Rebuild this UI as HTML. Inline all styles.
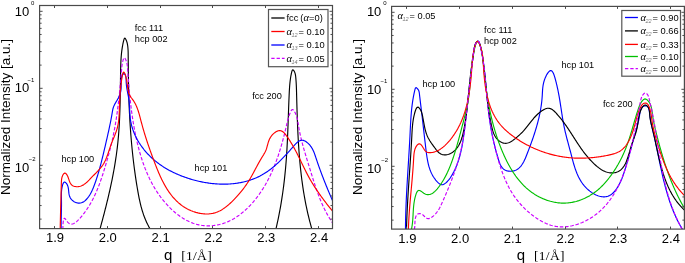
<!DOCTYPE html>
<html><head><meta charset="utf-8"><style>
html,body{margin:0;padding:0;background:#fff;width:685px;height:263px;overflow:hidden}
svg{display:block;will-change:transform;filter:blur(0.3px);font-family:"Liberation Sans",sans-serif}
.tk{font-size:13px;fill:#000}
.sup{font-size:6px;fill:#000}
.an{font-size:9.2px;fill:#000}
.lg{font-size:9.3px;fill:#000}
.al{font-family:"Liberation Serif",serif;font-style:italic;font-size:10.5px}
.sb{font-size:5.5px;fill:#777;font-style:italic}
.xq{font-size:15px;fill:#000}
.xu{font-size:13.5px;fill:#000;letter-spacing:0.3px}
.yl{font-size:13.5px;fill:#000}
.ser{font-family:"Liberation Serif",serif}
</style></head><body>
<svg width="685" height="263" viewBox="0 0 685 263" xmlns="http://www.w3.org/2000/svg">
<defs><clipPath id="cl"><rect x="40" y="6" width="292" height="222"/></clipPath><clipPath id="cr"><rect x="392" y="7" width="292" height="222"/></clipPath></defs>
<g clip-path="url(#cl)">
<path d="M99.85,229.46 L100.11,228.50 L100.38,227.53 L100.64,226.57 L100.90,225.61 L101.17,224.65 L101.43,223.69 L101.69,222.72 L101.95,221.76 L102.21,220.80 L102.47,219.84 L102.73,218.87 L102.98,217.91 L103.24,216.94 L103.49,215.98 L103.75,215.01 L104.00,214.05 L104.25,213.08 L104.50,212.12 L104.75,211.15 L105.00,210.18 L105.25,209.22 L105.49,208.25 L105.74,207.28 L105.98,206.31 L106.22,205.34 L106.46,204.38 L106.70,203.41 L106.94,202.44 L107.18,201.47 L107.41,200.50 L107.65,199.53 L107.88,198.56 L108.11,197.59 L108.34,196.61 L108.57,195.64 L108.80,194.67 L109.02,193.70 L109.25,192.72 L109.47,191.75 L109.69,190.78 L109.91,189.80 L110.12,188.83 L110.34,187.86 L110.55,186.88 L110.76,185.91 L110.97,184.93 L111.18,183.95 L111.38,182.98 L111.59,182.00 L111.79,181.02 L111.99,180.05 L112.19,179.07 L112.38,178.09 L112.57,177.11 L112.77,176.13 L112.96,175.15 L113.14,174.17 L113.33,173.19 L113.51,172.21 L113.69,171.23 L113.87,170.25 L114.05,169.27 L114.22,168.29 L114.39,167.30 L114.56,166.32 L114.73,165.34 L114.89,164.36 L115.05,163.37 L115.21,162.39 L115.37,161.40 L115.52,160.42 L115.67,159.43 L115.82,158.45 L115.97,157.46 L116.11,156.47 L116.26,155.49 L116.39,154.50 L116.53,153.51 L116.66,152.52 L116.79,151.53 L116.92,150.54 L117.05,149.55 L117.17,148.56 L117.29,147.57 L117.40,146.58 L117.51,145.59 L117.63,144.60 L117.73,143.61 L117.84,142.62 L117.94,141.62 L118.04,140.63 L118.13,139.64 L118.22,138.64 L118.31,137.65 L118.40,136.65 L118.49,135.66 L118.57,134.66 L118.65,133.67 L118.72,132.67 L118.80,131.68 L118.87,130.68 L118.94,129.68 L119.01,128.69 L119.07,127.69 L119.14,126.69 L119.20,125.69 L119.25,124.70 L119.31,123.70 L119.37,122.70 L119.42,121.70 L119.47,120.70 L119.52,119.71 L119.56,118.71 L119.61,117.71 L119.65,116.71 L119.69,115.71 L119.74,114.71 L119.77,113.71 L119.81,112.71 L119.85,111.71 L119.88,110.71 L119.91,109.71 L119.94,108.71 L119.97,107.72 L120.00,106.72 L120.03,105.72 L120.06,104.72 L120.08,103.72 L120.11,102.72 L120.13,101.72 L120.15,100.72 L120.17,99.72 L120.19,98.72 L120.21,97.72 L120.23,96.73 L120.25,95.73 L120.27,94.73 L120.29,93.73 L120.30,92.73 L120.32,91.74 L120.33,90.74 L120.35,89.74 L120.36,88.74 L120.38,87.75 L120.39,86.75 L120.41,85.75 L120.42,84.76 L120.43,83.76 L120.45,82.77 L120.46,81.77 L120.48,80.78 L120.49,79.78 L120.50,78.79 L120.52,77.79 L120.53,76.80 L120.54,75.81 L120.56,74.81 L120.57,73.82 L120.59,72.83 L120.61,71.84 L120.62,70.85 L120.64,69.86 L120.66,68.86 L120.68,67.87 L120.70,66.88 L120.73,65.89 L120.76,64.90 L120.79,63.91 L120.83,62.91 L120.87,61.92 L120.92,60.93 L120.97,59.93 L121.03,58.93 L121.10,57.93 L121.17,56.93 L121.25,55.93 L121.34,54.93 L121.44,53.92 L121.54,52.91 L121.66,51.90 L121.78,50.89 L121.92,49.87 L122.06,48.86 L122.22,47.84 L122.38,46.81 L122.57,45.78 L122.76,44.75 L122.96,43.72 L123.18,42.68 L123.41,41.64 L123.66,40.60 L123.93,39.61 L124.22,38.80 L124.54,38.27 L124.91,38.14 L125.32,38.50 L125.74,39.19 L126.12,39.96 L126.46,40.77 L126.76,41.61 L127.03,42.48 L127.25,43.37 L127.45,44.30 L127.61,45.24 L127.75,46.21 L127.86,47.19 L127.95,48.19 L128.02,49.20 L128.08,50.23 L128.12,51.26 L128.15,52.30 L128.17,53.35 L128.18,54.39 L128.19,55.44 L128.20,56.48 L128.21,57.53 L128.21,58.56 L128.22,59.60 L128.23,60.63 L128.24,61.66 L128.25,62.69 L128.26,63.71 L128.27,64.73 L128.28,65.75 L128.29,66.77 L128.30,67.78 L128.31,68.79 L128.32,69.80 L128.33,70.81 L128.34,71.81 L128.35,72.81 L128.36,73.82 L128.38,74.82 L128.39,75.81 L128.40,76.81 L128.42,77.80 L128.43,78.80 L128.45,79.79 L128.46,80.78 L128.48,81.77 L128.50,82.76 L128.51,83.74 L128.53,84.73 L128.55,85.72 L128.57,86.70 L128.59,87.69 L128.61,88.67 L128.64,89.66 L128.66,90.64 L128.69,91.62 L128.71,92.61 L128.74,93.59 L128.76,94.57 L128.79,95.56 L128.82,96.54 L128.85,97.52 L128.88,98.51 L128.91,99.49 L128.95,100.48 L128.98,101.46 L129.02,102.45 L129.05,103.44 L129.09,104.43 L129.13,105.42 L129.17,106.40 L129.21,107.39 L129.26,108.38 L129.30,109.37 L129.35,110.37 L129.39,111.36 L129.44,112.35 L129.49,113.34 L129.54,114.34 L129.59,115.33 L129.64,116.32 L129.70,117.32 L129.75,118.31 L129.81,119.31 L129.87,120.30 L129.92,121.30 L129.98,122.30 L130.05,123.29 L130.11,124.29 L130.17,125.29 L130.24,126.28 L130.31,127.28 L130.37,128.28 L130.44,129.28 L130.51,130.27 L130.59,131.27 L130.66,132.27 L130.74,133.27 L130.81,134.27 L130.89,135.27 L130.97,136.27 L131.05,137.27 L131.13,138.26 L131.22,139.26 L131.30,140.26 L131.39,141.26 L131.48,142.26 L131.57,143.26 L131.66,144.26 L131.75,145.26 L131.85,146.26 L131.94,147.26 L132.04,148.26 L132.14,149.26 L132.24,150.26 L132.34,151.26 L132.44,152.25 L132.55,153.25 L132.66,154.25 L132.76,155.25 L132.87,156.25 L132.98,157.25 L133.10,158.24 L133.21,159.24 L133.33,160.24 L133.45,161.24 L133.57,162.23 L133.69,163.23 L133.81,164.22 L133.94,165.22 L134.06,166.22 L134.19,167.21 L134.32,168.21 L134.45,169.20 L134.58,170.19 L134.72,171.19 L134.85,172.18 L134.99,173.17 L135.13,174.17 L135.27,175.16 L135.42,176.15 L135.56,177.14 L135.71,178.13 L135.86,179.12 L136.01,180.11 L136.16,181.10 L136.32,182.08 L136.47,183.07 L136.63,184.06 L136.79,185.04 L136.95,186.03 L137.12,187.02 L137.28,188.00 L137.45,188.98 L137.62,189.97 L137.79,190.95 L137.96,191.93 L138.14,192.91 L138.32,193.89 L138.50,194.87 L138.69,195.84 L138.88,196.82 L139.07,197.79 L139.27,198.77 L139.48,199.74 L139.69,200.71 L139.90,201.67 L140.12,202.64 L140.35,203.61 L140.59,204.57 L140.83,205.53 L141.07,206.49 L141.33,207.44 L141.59,208.40 L141.86,209.35 L142.14,210.30 L142.43,211.25 L142.73,212.19 L143.03,213.13 L143.35,214.07 L143.67,215.01 L144.01,215.94 L144.35,216.87 L144.71,217.80 L145.08,218.73 L145.46,219.65 L145.85,220.57 L146.25,221.48 L146.67,222.39 L147.09,223.30 L147.53,224.21 L147.99,225.11 L148.46,226.00 L148.94,226.90 L149.43,227.79 L149.94,228.67 L150.47,229.55" fill="none" stroke="#000" stroke-width="1.15" stroke-linejoin="round"/>
<path d="M275.81,229.50 L276.04,228.53 L276.26,227.56 L276.49,226.59 L276.71,225.62 L276.93,224.65 L277.15,223.67 L277.36,222.70 L277.58,221.73 L277.79,220.75 L277.99,219.78 L278.20,218.80 L278.40,217.83 L278.60,216.85 L278.79,215.87 L278.99,214.89 L279.18,213.91 L279.37,212.93 L279.56,211.95 L279.74,210.97 L279.92,209.99 L280.10,209.01 L280.28,208.03 L280.46,207.05 L280.63,206.06 L280.80,205.08 L280.97,204.10 L281.13,203.11 L281.29,202.13 L281.45,201.14 L281.61,200.15 L281.77,199.17 L281.92,198.18 L282.07,197.19 L282.22,196.21 L282.37,195.22 L282.52,194.23 L282.66,193.24 L282.80,192.25 L282.94,191.26 L283.07,190.27 L283.21,189.28 L283.34,188.29 L283.47,187.30 L283.60,186.31 L283.72,185.32 L283.84,184.33 L283.96,183.34 L284.08,182.35 L284.20,181.35 L284.32,180.36 L284.43,179.37 L284.54,178.38 L284.65,177.38 L284.75,176.39 L284.86,175.40 L284.96,174.40 L285.06,173.41 L285.16,172.42 L285.26,171.42 L285.35,170.43 L285.45,169.44 L285.54,168.44 L285.63,167.45 L285.71,166.46 L285.80,165.46 L285.88,164.47 L285.97,163.47 L286.05,162.48 L286.12,161.49 L286.20,160.49 L286.27,159.50 L286.35,158.50 L286.42,157.51 L286.49,156.52 L286.55,155.52 L286.62,154.53 L286.68,153.53 L286.75,152.54 L286.81,151.55 L286.87,150.55 L286.93,149.56 L286.98,148.57 L287.04,147.57 L287.09,146.58 L287.14,145.59 L287.20,144.59 L287.25,143.60 L287.30,142.61 L287.34,141.61 L287.39,140.62 L287.44,139.62 L287.48,138.63 L287.53,137.64 L287.57,136.64 L287.61,135.65 L287.65,134.66 L287.69,133.66 L287.73,132.67 L287.77,131.67 L287.81,130.68 L287.85,129.68 L287.89,128.69 L287.93,127.70 L287.96,126.70 L288.00,125.71 L288.04,124.71 L288.07,123.72 L288.11,122.72 L288.14,121.73 L288.18,120.73 L288.21,119.73 L288.25,118.74 L288.28,117.74 L288.32,116.75 L288.35,115.75 L288.38,114.75 L288.42,113.76 L288.45,112.76 L288.49,111.76 L288.53,110.76 L288.56,109.77 L288.60,108.77 L288.63,107.77 L288.67,106.77 L288.71,105.77 L288.75,104.77 L288.78,103.78 L288.82,102.78 L288.86,101.78 L288.90,100.78 L288.94,99.78 L288.99,98.78 L289.03,97.78 L289.07,96.77 L289.12,95.77 L289.16,94.77 L289.21,93.77 L289.25,92.77 L289.30,91.77 L289.35,90.76 L289.41,89.76 L289.47,88.76 L289.53,87.76 L289.60,86.75 L289.68,85.75 L289.76,84.75 L289.85,83.75 L289.94,82.75 L290.05,81.75 L290.17,80.75 L290.29,79.75 L290.43,78.75 L290.58,77.75 L290.74,76.76 L290.91,75.76 L291.10,74.77 L291.30,73.78 L291.51,72.78 L291.75,71.81 L292.01,70.93 L292.32,70.25 L292.68,69.89 L293.12,69.93 L293.60,70.34 L294.09,71.03 L294.55,71.91 L294.93,72.88 L295.22,73.88 L295.44,74.92 L295.61,75.97 L295.73,77.03 L295.83,78.09 L295.92,79.14 L296.00,80.19 L296.07,81.22 L296.14,82.25 L296.20,83.27 L296.25,84.29 L296.30,85.30 L296.35,86.31 L296.39,87.31 L296.42,88.30 L296.46,89.30 L296.49,90.29 L296.51,91.28 L296.54,92.27 L296.57,93.26 L296.59,94.24 L296.62,95.23 L296.64,96.22 L296.67,97.21 L296.70,98.20 L296.72,99.19 L296.75,100.18 L296.78,101.17 L296.80,102.16 L296.83,103.15 L296.86,104.14 L296.89,105.13 L296.91,106.12 L296.94,107.11 L296.97,108.11 L297.00,109.10 L297.03,110.09 L297.06,111.08 L297.09,112.08 L297.12,113.07 L297.16,114.07 L297.19,115.06 L297.22,116.05 L297.26,117.05 L297.29,118.04 L297.32,119.04 L297.36,120.03 L297.40,121.03 L297.44,122.02 L297.47,123.02 L297.51,124.02 L297.55,125.01 L297.59,126.01 L297.64,127.00 L297.68,128.00 L297.72,129.00 L297.77,129.99 L297.81,130.99 L297.86,131.98 L297.91,132.98 L297.95,133.98 L298.00,134.97 L298.06,135.97 L298.11,136.97 L298.16,137.96 L298.22,138.96 L298.27,139.96 L298.33,140.95 L298.39,141.95 L298.45,142.95 L298.51,143.94 L298.57,144.94 L298.64,145.94 L298.70,146.93 L298.77,147.93 L298.84,148.93 L298.91,149.92 L298.98,150.92 L299.05,151.92 L299.12,152.91 L299.20,153.91 L299.28,154.90 L299.36,155.90 L299.44,156.89 L299.52,157.89 L299.61,158.88 L299.69,159.88 L299.78,160.87 L299.87,161.87 L299.96,162.86 L300.06,163.85 L300.15,164.85 L300.25,165.84 L300.35,166.84 L300.45,167.83 L300.56,168.82 L300.66,169.81 L300.77,170.81 L300.88,171.80 L300.99,172.79 L301.10,173.78 L301.22,174.77 L301.34,175.76 L301.46,176.75 L301.58,177.74 L301.71,178.73 L301.83,179.72 L301.96,180.71 L302.10,181.70 L302.23,182.68 L302.37,183.67 L302.51,184.66 L302.65,185.65 L302.79,186.63 L302.94,187.62 L303.09,188.60 L303.24,189.59 L303.40,190.57 L303.55,191.56 L303.71,192.54 L303.87,193.52 L304.04,194.51 L304.21,195.49 L304.38,196.47 L304.55,197.45 L304.73,198.43 L304.91,199.41 L305.09,200.39 L305.27,201.37 L305.46,202.35 L305.65,203.32 L305.84,204.30 L306.04,205.28 L306.24,206.25 L306.44,207.23 L306.65,208.20 L306.86,209.17 L307.07,210.15 L307.28,211.12 L307.50,212.09 L307.72,213.06 L307.95,214.03 L308.17,215.00 L308.40,215.97 L308.64,216.94 L308.88,217.91 L309.12,218.87 L309.36,219.84 L309.61,220.81 L309.86,221.77 L310.11,222.73 L310.37,223.70 L310.63,224.66 L310.90,225.62 L311.17,226.58 L311.44,227.54 L311.72,228.50 L312.00,229.46" fill="none" stroke="#000" stroke-width="1.15" stroke-linejoin="round"/>
<path d="M62.80,229.49 L62.86,228.66 L62.89,227.77 L62.92,226.81 L62.94,225.79 L62.98,224.73 L63.05,223.61 L63.15,222.45 L63.29,221.25 L63.50,220.03 L63.79,218.94 L64.19,218.26 L64.71,218.28 L65.36,218.99 L66.09,220.08 L66.85,221.21 L67.63,222.16 L68.41,222.90 L69.19,223.46 L69.97,223.84 L70.75,224.05 L71.53,224.12 L72.32,224.04 L73.09,223.84 L73.87,223.53 L74.64,223.11 L75.40,222.61 L76.16,222.02 L76.91,221.38 L77.65,220.68 L78.38,219.94 L79.10,219.18 L79.80,218.40 L80.50,217.61 L81.18,216.82 L81.85,216.02 L82.50,215.22 L83.15,214.42 L83.78,213.61 L84.40,212.79 L85.01,211.97 L85.60,211.15 L86.19,210.32 L86.76,209.48 L87.33,208.64 L87.88,207.80 L88.43,206.95 L88.96,206.10 L89.48,205.25 L90.00,204.39 L90.50,203.52 L91.00,202.65 L91.48,201.78 L91.96,200.91 L92.43,200.03 L92.89,199.15 L93.34,198.26 L93.78,197.37 L94.21,196.48 L94.64,195.58 L95.06,194.68 L95.47,193.78 L95.88,192.88 L96.28,191.97 L96.67,191.06 L97.06,190.14 L97.44,189.23 L97.81,188.31 L98.18,187.39 L98.54,186.46 L98.89,185.54 L99.25,184.61 L99.59,183.68 L99.93,182.74 L100.27,181.81 L100.60,180.87 L100.93,179.93 L101.25,178.99 L101.57,178.05 L101.89,177.11 L102.20,176.16 L102.51,175.22 L102.82,174.27 L103.12,173.32 L103.42,172.37 L103.72,171.41 L104.01,170.46 L104.31,169.51 L104.60,168.55 L104.89,167.60 L105.18,166.64 L105.47,165.68 L105.75,164.73 L106.04,163.77 L106.32,162.81 L106.60,161.85 L106.88,160.89 L107.16,159.92 L107.43,158.96 L107.70,158.00 L107.97,157.03 L108.24,156.07 L108.51,155.10 L108.77,154.14 L109.03,153.17 L109.29,152.21 L109.54,151.24 L109.80,150.27 L110.05,149.30 L110.29,148.33 L110.54,147.36 L110.78,146.39 L111.02,145.42 L111.25,144.45 L111.49,143.47 L111.72,142.50 L111.94,141.53 L112.16,140.55 L112.38,139.58 L112.60,138.60 L112.81,137.63 L113.02,136.65 L113.23,135.68 L113.43,134.70 L113.63,133.72 L113.82,132.74 L114.01,131.76 L114.20,130.79 L114.39,129.81 L114.57,128.83 L114.75,127.85 L114.93,126.87 L115.10,125.88 L115.27,124.90 L115.44,123.92 L115.60,122.94 L115.76,121.95 L115.92,120.97 L116.08,119.99 L116.23,119.00 L116.38,118.02 L116.53,117.03 L116.68,116.05 L116.82,115.06 L116.96,114.08 L117.10,113.09 L117.24,112.10 L117.37,111.11 L117.50,110.13 L117.63,109.14 L117.76,108.15 L117.89,107.16 L118.01,106.17 L118.13,105.18 L118.25,104.19 L118.37,103.20 L118.48,102.21 L118.60,101.21 L118.71,100.22 L118.82,99.23 L118.93,98.24 L119.03,97.24 L119.14,96.25 L119.24,95.26 L119.34,94.26 L119.45,93.27 L119.54,92.27 L119.64,91.28 L119.74,90.28 L119.84,89.29 L119.93,88.29 L120.02,87.30 L120.12,86.30 L120.21,85.30 L120.30,84.31 L120.39,83.31 L120.48,82.32 L120.56,81.32 L120.65,80.33 L120.74,79.33 L120.82,78.34 L120.91,77.34 L120.99,76.35 L121.08,75.36 L121.16,74.37 L121.25,73.38 L121.33,72.39 L121.42,71.40 L121.50,70.41 L121.58,69.42 L121.67,68.43 L121.77,67.44 L121.88,66.45 L122.00,65.45 L122.15,64.44 L122.32,63.42 L122.52,62.40 L122.75,61.35 L123.03,60.30 L123.34,59.24 L123.71,58.33 L124.12,57.80 L124.59,57.86 L125.08,58.44 L125.55,59.30 L125.97,60.23 L126.32,61.18 L126.62,62.14 L126.87,63.11 L127.08,64.09 L127.25,65.08 L127.38,66.08 L127.49,67.08 L127.58,68.09 L127.65,69.10 L127.72,70.11 L127.78,71.12 L127.84,72.13 L127.90,73.13 L127.97,74.14 L128.03,75.15 L128.10,76.15 L128.17,77.16 L128.24,78.16 L128.31,79.16 L128.39,80.16 L128.46,81.16 L128.54,82.16 L128.62,83.16 L128.70,84.16 L128.78,85.16 L128.87,86.15 L128.95,87.15 L129.04,88.14 L129.13,89.14 L129.22,90.13 L129.31,91.12 L129.41,92.12 L129.50,93.11 L129.60,94.10 L129.70,95.09 L129.80,96.09 L129.90,97.08 L130.00,98.07 L130.11,99.06 L130.22,100.05 L130.33,101.04 L130.44,102.03 L130.55,103.02 L130.67,104.01 L130.79,105.00 L130.90,105.99 L131.03,106.98 L131.15,107.97 L131.27,108.96 L131.40,109.94 L131.53,110.93 L131.66,111.92 L131.80,112.91 L131.94,113.90 L132.07,114.88 L132.22,115.87 L132.36,116.86 L132.51,117.84 L132.66,118.83 L132.81,119.81 L132.97,120.80 L133.12,121.78 L133.28,122.77 L133.45,123.75 L133.61,124.73 L133.78,125.72 L133.96,126.70 L134.13,127.68 L134.31,128.66 L134.49,129.64 L134.68,130.62 L134.87,131.60 L135.06,132.58 L135.25,133.56 L135.45,134.54 L135.66,135.52 L135.86,136.50 L136.07,137.47 L136.28,138.45 L136.50,139.43 L136.72,140.40 L136.94,141.38 L137.17,142.35 L137.40,143.32 L137.64,144.30 L137.88,145.27 L138.12,146.24 L138.37,147.21 L138.62,148.18 L138.88,149.15 L139.14,150.11 L139.41,151.08 L139.68,152.05 L139.95,153.01 L140.23,153.97 L140.51,154.93 L140.80,155.89 L141.09,156.85 L141.39,157.80 L141.70,158.76 L142.00,159.71 L142.32,160.66 L142.64,161.61 L142.96,162.56 L143.29,163.50 L143.63,164.44 L143.97,165.38 L144.31,166.32 L144.67,167.25 L145.02,168.19 L145.39,169.11 L145.76,170.04 L146.13,170.97 L146.51,171.89 L146.90,172.80 L147.30,173.72 L147.70,174.63 L148.10,175.54 L148.52,176.45 L148.94,177.35 L149.36,178.25 L149.80,179.14 L150.24,180.03 L150.68,180.92 L151.14,181.80 L151.60,182.68 L152.07,183.56 L152.54,184.43 L153.02,185.30 L153.51,186.16 L154.01,187.02 L154.52,187.88 L155.03,188.73 L155.55,189.58 L156.07,190.42 L156.61,191.26 L157.15,192.09 L157.70,192.92 L158.26,193.74 L158.83,194.56 L159.40,195.37 L159.99,196.18 L160.58,196.98 L161.18,197.78 L161.79,198.57 L162.40,199.36 L163.03,200.14 L163.66,200.91 L164.31,201.68 L164.96,202.45 L165.62,203.21 L166.29,203.96 L166.97,204.70 L167.66,205.44 L168.35,206.18 L169.06,206.91 L169.77,207.63 L170.50,208.34 L171.23,209.05 L171.97,209.74 L172.72,210.43 L173.48,211.11 L174.25,211.78 L175.03,212.44 L175.81,213.09 L176.60,213.73 L177.40,214.36 L178.21,214.98 L179.03,215.58 L179.85,216.17 L180.69,216.75 L181.53,217.31 L182.37,217.86 L183.23,218.40 L184.09,218.92 L184.96,219.43 L185.84,219.92 L186.72,220.39 L187.61,220.85 L188.51,221.29 L189.41,221.71 L190.32,222.11 L191.24,222.50 L192.17,222.87 L193.10,223.22 L194.03,223.54 L194.98,223.85 L195.93,224.14 L196.88,224.41 L197.84,224.65 L198.81,224.87 L199.78,225.07 L200.76,225.25 L201.74,225.41 L202.73,225.54 L203.72,225.65 L204.72,225.74 L205.72,225.80 L206.72,225.85 L207.72,225.87 L208.72,225.87 L209.72,225.85 L210.72,225.80 L211.72,225.74 L212.72,225.66 L213.72,225.55 L214.71,225.42 L215.70,225.28 L216.69,225.11 L217.67,224.93 L218.65,224.72 L219.62,224.49 L220.58,224.25 L221.54,223.98 L222.49,223.70 L223.43,223.39 L224.37,223.07 L225.29,222.73 L226.22,222.38 L227.13,222.00 L228.04,221.61 L228.94,221.20 L229.83,220.78 L230.72,220.34 L231.60,219.88 L232.47,219.41 L233.33,218.92 L234.19,218.42 L235.04,217.90 L235.88,217.37 L236.72,216.83 L237.54,216.27 L238.36,215.70 L239.18,215.12 L239.98,214.52 L240.78,213.91 L241.57,213.29 L242.35,212.66 L243.13,212.02 L243.89,211.37 L244.65,210.70 L245.41,210.03 L246.15,209.34 L246.89,208.65 L247.61,207.95 L248.33,207.23 L249.05,206.51 L249.75,205.78 L250.45,205.05 L251.14,204.30 L251.82,203.55 L252.49,202.79 L253.16,202.03 L253.81,201.26 L254.46,200.48 L255.10,199.70 L255.74,198.91 L256.36,198.12 L256.98,197.32 L257.59,196.52 L258.19,195.71 L258.78,194.90 L259.36,194.08 L259.94,193.26 L260.51,192.44 L261.07,191.61 L261.62,190.77 L262.17,189.94 L262.71,189.09 L263.24,188.25 L263.76,187.40 L264.28,186.55 L264.79,185.69 L265.30,184.83 L265.79,183.96 L266.28,183.10 L266.76,182.22 L267.24,181.35 L267.71,180.47 L268.17,179.59 L268.63,178.70 L269.08,177.82 L269.52,176.92 L269.96,176.03 L270.39,175.13 L270.82,174.23 L271.24,173.33 L271.65,172.42 L272.06,171.51 L272.46,170.60 L272.86,169.69 L273.25,168.77 L273.63,167.85 L274.02,166.93 L274.39,166.00 L274.76,165.08 L275.12,164.15 L275.48,163.22 L275.84,162.28 L276.19,161.35 L276.53,160.41 L276.87,159.47 L277.21,158.53 L277.54,157.59 L277.86,156.64 L278.19,155.70 L278.50,154.75 L278.82,153.80 L279.13,152.85 L279.43,151.90 L279.73,150.94 L280.03,149.99 L280.32,149.03 L280.61,148.07 L280.90,147.11 L281.18,146.15 L281.46,145.19 L281.73,144.23 L282.00,143.27 L282.27,142.31 L282.54,141.34 L282.80,140.38 L283.06,139.41 L283.31,138.45 L283.57,137.48 L283.82,136.52 L284.06,135.55 L284.31,134.58 L284.55,133.61 L284.79,132.65 L285.03,131.68 L285.26,130.71 L285.49,129.74 L285.72,128.78 L285.95,127.81 L286.18,126.84 L286.40,125.88 L286.62,124.91 L286.84,123.94 L287.07,122.98 L287.29,122.01 L287.53,121.04 L287.77,120.08 L288.03,119.10 L288.30,118.13 L288.59,117.15 L288.90,116.17 L289.24,115.19 L289.61,114.20 L290.00,113.21 L290.43,112.21 L290.89,111.22 L291.40,110.35 L291.94,109.74 L292.52,109.55 L293.14,109.85 L293.76,110.53 L294.36,111.41 L294.91,112.36 L295.40,113.31 L295.84,114.27 L296.22,115.24 L296.56,116.21 L296.86,117.19 L297.13,118.17 L297.36,119.15 L297.57,120.13 L297.76,121.12 L297.93,122.10 L298.09,123.09 L298.25,124.08 L298.40,125.07 L298.56,126.05 L298.73,127.04 L298.90,128.02 L299.08,129.00 L299.26,129.98 L299.45,130.96 L299.65,131.94 L299.85,132.91 L300.05,133.89 L300.27,134.86 L300.48,135.83 L300.71,136.80 L300.93,137.77 L301.16,138.74 L301.40,139.71 L301.64,140.67 L301.88,141.64 L302.13,142.61 L302.39,143.57 L302.64,144.53 L302.90,145.49 L303.16,146.46 L303.43,147.42 L303.70,148.38 L303.97,149.34 L304.25,150.30 L304.52,151.26 L304.80,152.21 L305.08,153.17 L305.37,154.13 L305.65,155.09 L305.94,156.04 L306.23,157.00 L306.52,157.96 L306.81,158.91 L307.11,159.87 L307.40,160.82 L307.69,161.78 L307.99,162.74 L308.29,163.69 L308.58,164.65 L308.88,165.61 L309.17,166.56 L309.47,167.52 L309.77,168.48 L310.06,169.43 L310.36,170.39 L310.65,171.35 L310.95,172.31 L311.24,173.27 L311.54,174.22 L311.83,175.18 L312.13,176.14 L312.43,177.09 L312.73,178.05 L313.03,179.01 L313.33,179.96 L313.63,180.92 L313.94,181.87 L314.24,182.82 L314.55,183.78 L314.86,184.73 L315.18,185.68 L315.50,186.63 L315.82,187.58 L316.14,188.52 L316.47,189.47 L316.79,190.41 L317.13,191.35 L317.46,192.29 L317.81,193.23 L318.15,194.17 L318.50,195.10 L318.85,196.04 L319.21,196.97 L319.58,197.89 L319.94,198.82 L320.32,199.74 L320.70,200.67 L321.08,201.59 L321.47,202.50 L321.87,203.42 L322.27,204.33 L322.68,205.24 L323.09,206.14 L323.51,207.04 L323.94,207.94 L324.37,208.84 L324.82,209.73 L325.27,210.62 L325.72,211.51 L326.19,212.39 L326.66,213.27 L327.14,214.15 L327.63,215.02 L328.12,215.89 L328.63,216.75 L329.14,217.61 L329.67,218.47 L330.20,219.32 L330.74,220.17 L331.29,221.01 L331.85,221.85 L332.42,222.68 L333.00,223.52" fill="none" stroke="#cc00ff" stroke-width="1.15" stroke-linejoin="round" stroke-dasharray="3.5,1.8"/>
<path d="M61.20,229.50 L61.18,228.54 L61.16,227.57 L61.15,226.59 L61.14,225.61 L61.14,224.62 L61.14,223.63 L61.15,222.63 L61.16,221.63 L61.17,220.62 L61.19,219.61 L61.21,218.60 L61.23,217.58 L61.25,216.56 L61.28,215.54 L61.30,214.52 L61.33,213.50 L61.35,212.48 L61.37,211.47 L61.40,210.45 L61.42,209.43 L61.44,208.42 L61.45,207.41 L61.47,206.40 L61.48,205.40 L61.48,204.40 L61.49,203.41 L61.49,202.43 L61.48,201.45 L61.47,200.47 L61.45,199.51 L61.43,198.55 L61.40,197.59 L61.39,196.64 L61.37,195.68 L61.37,194.72 L61.38,193.75 L61.42,192.77 L61.47,191.77 L61.55,190.76 L61.66,189.74 L61.81,188.69 L61.99,187.61 L62.21,186.51 L62.48,185.39 L62.80,184.31 L63.18,183.36 L63.63,182.63 L64.16,182.18 L64.77,182.11 L65.45,182.45 L66.14,183.08 L66.77,183.88 L67.28,184.75 L67.68,185.68 L67.99,186.64 L68.22,187.64 L68.39,188.66 L68.53,189.70 L68.64,190.75 L68.74,191.80 L68.86,192.85 L69.01,193.88 L69.20,194.90 L69.45,195.88 L69.79,196.83 L70.23,197.74 L70.77,198.60 L71.40,199.39 L72.11,200.13 L72.88,200.80 L73.72,201.40 L74.60,201.92 L75.52,202.35 L76.46,202.69 L77.42,202.93 L78.37,203.07 L79.32,203.11 L80.25,203.02 L81.16,202.83 L82.04,202.53 L82.89,202.14 L83.72,201.66 L84.52,201.10 L85.29,200.46 L86.04,199.76 L86.75,199.01 L87.44,198.21 L88.10,197.37 L88.73,196.50 L89.33,195.60 L89.90,194.69 L90.44,193.77 L90.95,192.85 L91.43,191.93 L91.88,191.02 L92.30,190.11 L92.71,189.20 L93.09,188.29 L93.46,187.38 L93.82,186.47 L94.16,185.56 L94.50,184.64 L94.84,183.73 L95.17,182.80 L95.49,181.88 L95.81,180.95 L96.12,180.02 L96.44,179.09 L96.74,178.15 L97.04,177.21 L97.34,176.27 L97.63,175.32 L97.92,174.37 L98.21,173.42 L98.49,172.47 L98.77,171.52 L99.05,170.56 L99.32,169.60 L99.59,168.64 L99.85,167.68 L100.12,166.72 L100.38,165.75 L100.63,164.78 L100.89,163.82 L101.14,162.85 L101.39,161.88 L101.64,160.90 L101.88,159.93 L102.12,158.96 L102.36,157.99 L102.60,157.01 L102.84,156.04 L103.08,155.06 L103.31,154.09 L103.54,153.11 L103.77,152.14 L104.00,151.16 L104.23,150.19 L104.46,149.21 L104.69,148.24 L104.91,147.26 L105.14,146.29 L105.36,145.32 L105.59,144.34 L105.81,143.37 L106.04,142.40 L106.26,141.43 L106.48,140.46 L106.71,139.50 L106.93,138.53 L107.15,137.56 L107.37,136.59 L107.59,135.63 L107.81,134.66 L108.02,133.69 L108.24,132.73 L108.45,131.76 L108.67,130.79 L108.88,129.82 L109.09,128.85 L109.30,127.88 L109.50,126.91 L109.71,125.94 L109.91,124.97 L110.11,124.00 L110.31,123.03 L110.51,122.05 L110.70,121.07 L110.89,120.10 L111.08,119.12 L111.27,118.14 L111.45,117.15 L111.63,116.17 L111.81,115.18 L111.98,114.19 L112.15,113.20 L112.32,112.21 L112.49,111.21 L112.67,110.22 L112.86,109.23 L113.10,108.26 L113.39,107.30 L113.75,106.36 L114.15,105.43 L114.60,104.53 L115.08,103.63 L115.58,102.75 L116.09,101.88 L116.60,101.03 L117.11,100.18 L117.60,99.33 L118.07,98.49 L118.52,97.65 L118.93,96.80 L119.32,95.95 L119.68,95.09 L120.00,94.21 L120.29,93.31 L120.53,92.39 L120.74,91.44 L120.90,90.46 L121.01,89.45 L121.09,88.42 L121.13,87.35 L121.15,86.28 L121.16,85.19 L121.16,84.10 L121.17,83.01 L121.19,81.93 L121.23,80.87 L121.30,79.83 L121.41,78.82 L121.57,77.84 L121.78,76.90 L122.06,76.02 L122.42,75.18 L122.85,74.42 L123.36,73.85 L123.93,73.65 L124.51,73.92 L125.04,74.50 L125.45,75.26 L125.74,76.14 L125.93,77.12 L126.04,78.17 L126.11,79.27 L126.14,80.40 L126.17,81.54 L126.22,82.66 L126.30,83.75 L126.39,84.82 L126.51,85.88 L126.64,86.91 L126.79,87.93 L126.95,88.94 L127.12,89.93 L127.30,90.92 L127.49,91.89 L127.67,92.85 L127.86,93.81 L128.05,94.77 L128.23,95.72 L128.41,96.67 L128.57,97.63 L128.73,98.58 L128.87,99.54 L129.00,100.51 L129.11,101.48 L129.21,102.46 L129.29,103.44 L129.37,104.43 L129.43,105.42 L129.49,106.41 L129.54,107.41 L129.59,108.41 L129.64,109.42 L129.69,110.42 L129.74,111.43 L129.79,112.43 L129.85,113.44 L129.92,114.45 L129.99,115.45 L130.08,116.46 L130.18,117.46 L130.29,118.46 L130.42,119.45 L130.57,120.44 L130.73,121.43 L130.92,122.42 L131.12,123.40 L131.34,124.37 L131.58,125.34 L131.83,126.31 L132.11,127.27 L132.40,128.23 L132.70,129.18 L133.03,130.12 L133.37,131.06 L133.72,132.00 L134.09,132.93 L134.48,133.85 L134.88,134.77 L135.29,135.67 L135.73,136.58 L136.17,137.48 L136.63,138.37 L137.10,139.25 L137.59,140.12 L138.08,140.99 L138.60,141.85 L139.12,142.71 L139.66,143.55 L140.20,144.39 L140.76,145.22 L141.34,146.04 L141.92,146.86 L142.51,147.66 L143.12,148.46 L143.73,149.25 L144.36,150.02 L144.99,150.79 L145.64,151.55 L146.29,152.30 L146.95,153.04 L147.62,153.78 L148.30,154.50 L148.99,155.21 L149.69,155.91 L150.39,156.60 L151.10,157.28 L151.82,157.96 L152.55,158.62 L153.29,159.27 L154.03,159.91 L154.78,160.55 L155.54,161.17 L156.31,161.79 L157.08,162.39 L157.86,162.99 L158.65,163.58 L159.44,164.16 L160.24,164.72 L161.05,165.28 L161.86,165.84 L162.68,166.38 L163.51,166.91 L164.34,167.44 L165.18,167.95 L166.02,168.46 L166.87,168.96 L167.73,169.45 L168.59,169.93 L169.46,170.41 L170.34,170.87 L171.22,171.33 L172.10,171.78 L172.99,172.22 L173.89,172.65 L174.79,173.08 L175.69,173.50 L176.60,173.90 L177.52,174.31 L178.44,174.70 L179.37,175.09 L180.29,175.47 L181.23,175.84 L182.17,176.20 L183.11,176.56 L184.06,176.90 L185.01,177.25 L185.96,177.58 L186.92,177.91 L187.88,178.23 L188.85,178.54 L189.82,178.84 L190.79,179.14 L191.76,179.43 L192.74,179.71 L193.72,179.98 L194.71,180.25 L195.69,180.51 L196.68,180.76 L197.67,181.00 L198.67,181.23 L199.66,181.46 L200.66,181.67 L201.66,181.88 L202.66,182.08 L203.66,182.27 L204.67,182.45 L205.67,182.62 L206.68,182.79 L207.69,182.94 L208.70,183.09 L209.70,183.23 L210.71,183.36 L211.72,183.47 L212.74,183.58 L213.75,183.68 L214.76,183.78 L215.77,183.86 L216.78,183.93 L217.79,183.99 L218.80,184.04 L219.81,184.09 L220.82,184.12 L221.83,184.14 L222.84,184.15 L223.84,184.16 L224.85,184.15 L225.85,184.13 L226.85,184.10 L227.85,184.06 L228.85,184.01 L229.85,183.95 L230.85,183.88 L231.84,183.80 L232.83,183.71 L233.82,183.61 L234.80,183.49 L235.79,183.37 L236.77,183.23 L237.75,183.08 L238.72,182.92 L239.69,182.75 L240.66,182.57 L241.63,182.38 L242.59,182.18 L243.54,181.96 L244.50,181.73 L245.45,181.49 L246.39,181.24 L247.33,180.98 L248.27,180.70 L249.20,180.42 L250.13,180.12 L251.06,179.80 L251.97,179.48 L252.89,179.14 L253.80,178.79 L254.70,178.43 L255.60,178.06 L256.49,177.67 L257.37,177.27 L258.25,176.86 L259.13,176.43 L260.00,176.00 L260.86,175.54 L261.72,175.08 L262.57,174.60 L263.41,174.11 L264.25,173.61 L265.07,173.09 L265.90,172.56 L266.71,172.02 L267.53,171.46 L268.33,170.89 L269.13,170.31 L269.92,169.72 L270.71,169.12 L271.49,168.51 L272.27,167.88 L273.04,167.25 L273.81,166.61 L274.57,165.95 L275.33,165.29 L276.08,164.62 L276.83,163.94 L277.58,163.25 L278.32,162.55 L279.06,161.84 L279.80,161.13 L280.53,160.41 L281.26,159.68 L281.98,158.95 L282.70,158.21 L283.42,157.46 L284.14,156.71 L284.86,155.95 L285.57,155.19 L286.28,154.42 L286.99,153.65 L287.70,152.87 L288.41,152.09 L289.12,151.31 L289.82,150.52 L290.52,149.73 L291.23,148.93 L291.93,148.14 L292.63,147.34 L293.33,146.54 L294.04,145.74 L294.74,144.94 L295.45,144.17 L296.16,143.43 L296.88,142.74 L297.61,142.10 L298.36,141.54 L299.11,141.06 L299.89,140.68 L300.68,140.41 L301.49,140.26 L302.33,140.24 L303.19,140.38 L304.07,140.65 L304.96,141.06 L305.85,141.57 L306.72,142.18 L307.57,142.86 L308.39,143.61 L309.17,144.39 L309.89,145.21 L310.55,146.04 L311.16,146.88 L311.72,147.75 L312.24,148.62 L312.72,149.51 L313.16,150.41 L313.57,151.32 L313.96,152.24 L314.32,153.16 L314.66,154.10 L314.99,155.03 L315.31,155.97 L315.62,156.92 L315.94,157.86 L316.25,158.80 L316.57,159.75 L316.88,160.69 L317.21,161.63 L317.53,162.57 L317.85,163.51 L318.18,164.45 L318.51,165.39 L318.84,166.33 L319.18,167.27 L319.52,168.21 L319.86,169.15 L320.20,170.08 L320.54,171.02 L320.89,171.96 L321.24,172.89 L321.59,173.83 L321.94,174.76 L322.29,175.69 L322.65,176.63 L323.01,177.56 L323.37,178.49 L323.73,179.42 L324.09,180.35 L324.46,181.28 L324.83,182.21 L325.20,183.14 L325.57,184.07 L325.94,184.99 L326.31,185.92 L326.69,186.84 L327.07,187.77 L327.45,188.69 L327.83,189.61 L328.21,190.54 L328.60,191.46 L328.98,192.38 L329.37,193.30 L329.76,194.21 L330.15,195.13 L330.54,196.05 L330.94,196.96 L331.33,197.88 L331.73,198.79 L332.13,199.70 L332.52,200.62 L332.93,201.53" fill="none" stroke="#0000ff" stroke-width="1.15" stroke-linejoin="round"/>
<path d="M60.20,229.52 L60.22,228.50 L60.24,227.48 L60.26,226.46 L60.28,225.45 L60.29,224.44 L60.31,223.43 L60.34,222.43 L60.36,221.42 L60.38,220.42 L60.40,219.43 L60.42,218.43 L60.44,217.43 L60.47,216.44 L60.49,215.45 L60.51,214.46 L60.54,213.47 L60.56,212.48 L60.58,211.50 L60.61,210.51 L60.63,209.52 L60.66,208.54 L60.68,207.55 L60.71,206.56 L60.73,205.58 L60.76,204.59 L60.79,203.60 L60.81,202.62 L60.84,201.63 L60.86,200.64 L60.89,199.65 L60.92,198.65 L60.95,197.66 L60.97,196.66 L61.00,195.67 L61.03,194.67 L61.05,193.67 L61.08,192.66 L61.11,191.66 L61.14,190.65 L61.16,189.64 L61.19,188.62 L61.22,187.61 L61.25,186.58 L61.28,185.56 L61.30,184.53 L61.33,183.50 L61.36,182.47 L61.41,181.44 L61.49,180.42 L61.59,179.41 L61.75,178.42 L61.96,177.45 L62.24,176.51 L62.60,175.61 L63.04,174.74 L63.58,173.94 L64.19,173.35 L64.84,173.10 L65.50,173.28 L66.14,173.80 L66.73,174.54 L67.25,175.39 L67.70,176.32 L68.10,177.31 L68.47,178.34 L68.83,179.39 L69.19,180.43 L69.57,181.45 L69.98,182.43 L70.45,183.34 L71.00,184.17 L71.63,184.90 L72.37,185.50 L73.21,185.97 L74.13,186.32 L75.12,186.55 L76.14,186.68 L77.18,186.70 L78.22,186.63 L79.23,186.48 L80.20,186.24 L81.13,185.94 L82.03,185.57 L82.89,185.13 L83.73,184.64 L84.53,184.10 L85.32,183.52 L86.08,182.89 L86.82,182.24 L87.55,181.55 L88.27,180.84 L88.99,180.12 L89.69,179.38 L90.39,178.64 L91.10,177.89 L91.81,177.16 L92.52,176.43 L93.24,175.70 L93.96,174.98 L94.68,174.27 L95.39,173.56 L96.11,172.85 L96.81,172.13 L97.51,171.42 L98.20,170.69 L98.87,169.97 L99.53,169.23 L100.18,168.48 L100.81,167.73 L101.41,166.96 L102.00,166.17 L102.56,165.37 L103.10,164.55 L103.61,163.71 L104.09,162.85 L104.55,161.98 L105.00,161.10 L105.42,160.20 L105.83,159.29 L106.22,158.37 L106.60,157.44 L106.96,156.50 L107.31,155.56 L107.66,154.61 L107.99,153.65 L108.32,152.69 L108.64,151.73 L108.96,150.76 L109.28,149.80 L109.60,148.84 L109.92,147.88 L110.25,146.92 L110.57,145.97 L110.91,145.02 L111.25,144.08 L111.60,143.15 L111.96,142.22 L112.32,141.30 L112.69,140.39 L113.07,139.48 L113.44,138.57 L113.81,137.67 L114.18,136.76 L114.55,135.86 L114.91,134.95 L115.27,134.04 L115.61,133.13 L115.95,132.21 L116.27,131.29 L116.58,130.36 L116.87,129.42 L117.14,128.48 L117.40,127.52 L117.64,126.55 L117.85,125.57 L118.05,124.58 L118.23,123.59 L118.39,122.58 L118.53,121.57 L118.66,120.55 L118.77,119.53 L118.87,118.50 L118.96,117.47 L119.04,116.44 L119.11,115.41 L119.17,114.38 L119.22,113.35 L119.26,112.33 L119.30,111.30 L119.34,110.28 L119.37,109.27 L119.40,108.27 L119.43,107.27 L119.45,106.28 L119.48,105.30 L119.51,104.33 L119.55,103.37 L119.58,102.42 L119.62,101.47 L119.67,100.53 L119.71,99.60 L119.76,98.66 L119.82,97.73 L119.88,96.79 L119.94,95.85 L120.01,94.90 L120.08,93.95 L120.16,92.98 L120.24,92.01 L120.33,91.02 L120.43,90.02 L120.53,89.00 L120.64,87.96 L120.76,86.90 L120.88,85.82 L121.01,84.71 L121.14,83.58 L121.29,82.42 L121.44,81.23 L121.60,80.02 L121.77,78.82 L121.95,77.64 L122.13,76.51 L122.33,75.46 L122.54,74.51 L122.76,73.69 L123.00,73.02 L123.24,72.52 L123.50,72.22 L123.78,72.14 L124.06,72.30 L124.36,72.68 L124.67,73.25 L124.97,73.99 L125.28,74.86 L125.58,75.86 L125.87,76.95 L126.14,78.10 L126.40,79.29 L126.64,80.50 L126.86,81.70 L127.04,82.86 L127.20,83.99 L127.35,85.07 L127.48,86.12 L127.60,87.14 L127.73,88.12 L127.87,89.08 L128.02,90.01 L128.20,90.91 L128.40,91.79 L128.63,92.65 L128.91,93.49 L129.24,94.31 L129.62,95.12 L130.06,95.91 L130.57,96.70 L131.12,97.48 L131.70,98.26 L132.29,99.05 L132.87,99.85 L133.44,100.66 L133.98,101.49 L134.49,102.34 L134.97,103.20 L135.43,104.08 L135.87,104.97 L136.28,105.87 L136.68,106.79 L137.05,107.71 L137.41,108.65 L137.75,109.59 L138.08,110.54 L138.39,111.50 L138.69,112.47 L138.98,113.44 L139.26,114.42 L139.54,115.40 L139.80,116.38 L140.07,117.36 L140.32,118.35 L140.58,119.33 L140.83,120.31 L141.09,121.29 L141.35,122.27 L141.61,123.25 L141.87,124.22 L142.13,125.18 L142.40,126.15 L142.67,127.11 L142.94,128.07 L143.21,129.03 L143.49,129.98 L143.77,130.93 L144.05,131.88 L144.34,132.82 L144.62,133.77 L144.91,134.71 L145.21,135.65 L145.50,136.59 L145.80,137.53 L146.10,138.47 L146.40,139.40 L146.70,140.33 L147.01,141.27 L147.32,142.20 L147.63,143.13 L147.94,144.06 L148.26,144.99 L148.58,145.92 L148.90,146.85 L149.22,147.78 L149.55,148.71 L149.87,149.64 L150.20,150.57 L150.54,151.50 L150.87,152.44 L151.21,153.37 L151.55,154.30 L151.89,155.24 L152.23,156.17 L152.58,157.11 L152.92,158.05 L153.27,158.99 L153.63,159.93 L153.98,160.88 L154.34,161.82 L154.70,162.77 L155.06,163.71 L155.42,164.66 L155.79,165.61 L156.16,166.56 L156.54,167.51 L156.92,168.45 L157.30,169.40 L157.69,170.34 L158.08,171.29 L158.48,172.23 L158.88,173.17 L159.29,174.10 L159.70,175.04 L160.12,175.97 L160.55,176.89 L160.98,177.82 L161.41,178.74 L161.86,179.65 L162.31,180.56 L162.77,181.46 L163.23,182.36 L163.70,183.26 L164.18,184.14 L164.67,185.03 L165.16,185.90 L165.67,186.77 L166.18,187.63 L166.70,188.48 L167.23,189.32 L167.77,190.16 L168.32,190.99 L168.88,191.81 L169.45,192.62 L170.02,193.42 L170.61,194.21 L171.21,194.99 L171.82,195.76 L172.44,196.52 L173.07,197.27 L173.71,198.00 L174.37,198.73 L175.04,199.44 L175.71,200.14 L176.40,200.83 L177.11,201.51 L177.82,202.17 L178.55,202.82 L179.29,203.45 L180.05,204.07 L180.82,204.68 L181.60,205.27 L182.39,205.85 L183.20,206.41 L184.03,206.95 L184.87,207.48 L185.72,207.99 L186.59,208.49 L187.47,208.97 L188.37,209.43 L189.28,209.87 L190.21,210.29 L191.14,210.70 L192.09,211.08 L193.04,211.44 L194.01,211.78 L194.98,212.10 L195.95,212.40 L196.94,212.67 L197.93,212.92 L198.92,213.14 L199.92,213.34 L200.92,213.52 L201.92,213.66 L202.93,213.78 L203.93,213.87 L204.93,213.94 L205.93,213.97 L206.93,213.97 L207.93,213.95 L208.92,213.89 L209.90,213.80 L210.88,213.68 L211.85,213.53 L212.82,213.35 L213.77,213.12 L214.72,212.87 L215.65,212.58 L216.58,212.26 L217.49,211.90 L218.40,211.51 L219.29,211.09 L220.18,210.64 L221.05,210.16 L221.91,209.66 L222.76,209.13 L223.61,208.58 L224.44,208.01 L225.26,207.41 L226.08,206.80 L226.88,206.16 L227.68,205.51 L228.46,204.85 L229.24,204.17 L230.01,203.47 L230.76,202.77 L231.51,202.05 L232.25,201.33 L232.98,200.60 L233.70,199.86 L234.42,199.12 L235.12,198.37 L235.81,197.62 L236.50,196.88 L237.18,196.13 L237.85,195.38 L238.51,194.63 L239.16,193.87 L239.81,193.12 L240.45,192.36 L241.07,191.60 L241.70,190.84 L242.31,190.08 L242.91,189.31 L243.51,188.54 L244.10,187.76 L244.68,186.97 L245.25,186.19 L245.82,185.39 L246.37,184.59 L246.92,183.78 L247.46,182.97 L248.00,182.15 L248.53,181.32 L249.05,180.48 L249.56,179.63 L250.07,178.78 L250.57,177.92 L251.06,177.06 L251.55,176.19 L252.04,175.31 L252.52,174.43 L253.00,173.55 L253.48,172.66 L253.96,171.77 L254.43,170.88 L254.91,169.98 L255.38,169.09 L255.86,168.20 L256.33,167.30 L256.81,166.41 L257.29,165.52 L257.77,164.63 L258.25,163.74 L258.74,162.86 L259.24,161.97 L259.73,161.10 L260.24,160.23 L260.75,159.36 L261.26,158.50 L261.78,157.64 L262.31,156.80 L262.84,155.95 L263.35,155.10 L263.86,154.26 L264.35,153.41 L264.82,152.55 L265.27,151.68 L265.68,150.80 L266.05,149.91 L266.38,149.01 L266.68,148.09 L266.95,147.15 L267.21,146.21 L267.46,145.26 L267.72,144.31 L267.98,143.35 L268.26,142.40 L268.57,141.44 L268.92,140.49 L269.32,139.54 L269.76,138.60 L270.28,137.66 L270.86,136.75 L271.52,135.84 L272.24,134.97 L273.03,134.14 L273.86,133.36 L274.72,132.66 L275.62,132.03 L276.52,131.51 L277.43,131.09 L278.34,130.80 L279.22,130.65 L280.08,130.65 L280.91,130.80 L281.70,131.09 L282.47,131.51 L283.20,132.05 L283.91,132.67 L284.60,133.38 L285.26,134.15 L285.91,134.97 L286.54,135.82 L287.16,136.69 L287.76,137.56 L288.35,138.44 L288.93,139.32 L289.50,140.19 L290.06,141.07 L290.61,141.95 L291.15,142.84 L291.68,143.72 L292.21,144.60 L292.72,145.49 L293.23,146.37 L293.72,147.26 L294.22,148.15 L294.70,149.04 L295.18,149.93 L295.65,150.81 L296.12,151.70 L296.58,152.59 L297.04,153.48 L297.49,154.38 L297.94,155.27 L298.38,156.16 L298.82,157.05 L299.26,157.94 L299.70,158.83 L300.13,159.72 L300.56,160.61 L300.99,161.50 L301.42,162.39 L301.85,163.28 L302.28,164.17 L302.71,165.05 L303.14,165.94 L303.57,166.83 L304.00,167.71 L304.44,168.59 L304.88,169.48 L305.31,170.36 L305.76,171.24 L306.20,172.12 L306.65,173.00 L307.11,173.88 L307.56,174.75 L308.03,175.63 L308.50,176.50 L308.97,177.37 L309.45,178.24 L309.94,179.10 L310.43,179.97 L310.93,180.83 L311.44,181.69 L311.95,182.55 L312.47,183.41 L313.00,184.27 L313.53,185.12 L314.07,185.97 L314.61,186.82 L315.16,187.66 L315.71,188.51 L316.26,189.35 L316.83,190.19 L317.39,191.02 L317.96,191.86 L318.54,192.69 L319.11,193.52 L319.69,194.34 L320.28,195.17 L320.87,195.99 L321.46,196.81 L322.05,197.62 L322.65,198.43 L323.25,199.24 L323.85,200.05 L324.45,200.85 L325.06,201.65 L325.66,202.45 L326.27,203.24 L326.88,204.03 L327.49,204.82 L328.10,205.61 L328.71,206.39 L329.33,207.16 L329.94,207.94 L330.55,208.71 L331.17,209.48 L331.78,210.24 L332.39,211.00 L333.00,211.76" fill="none" stroke="#ff0000" stroke-width="1.15" stroke-linejoin="round"/>
</g><g clip-path="url(#cr)">
<path d="M405.48,229.49 L405.48,228.49 L405.49,227.50 L405.50,226.50 L405.51,225.50 L405.52,224.50 L405.53,223.51 L405.55,222.51 L405.57,221.51 L405.59,220.51 L405.61,219.51 L405.63,218.51 L405.65,217.52 L405.68,216.52 L405.70,215.52 L405.73,214.52 L405.76,213.52 L405.79,212.52 L405.82,211.53 L405.85,210.53 L405.89,209.53 L405.92,208.53 L405.96,207.53 L406.00,206.53 L406.04,205.54 L406.08,204.54 L406.12,203.54 L406.16,202.54 L406.21,201.54 L406.25,200.54 L406.30,199.54 L406.34,198.54 L406.39,197.55 L406.44,196.55 L406.49,195.55 L406.54,194.55 L406.59,193.55 L406.64,192.55 L406.69,191.55 L406.75,190.56 L406.80,189.56 L406.85,188.56 L406.91,187.56 L406.97,186.56 L407.02,185.56 L407.08,184.56 L407.14,183.57 L407.20,182.57 L407.25,181.57 L407.31,180.57 L407.37,179.57 L407.43,178.57 L407.49,177.58 L407.55,176.58 L407.61,175.58 L407.68,174.58 L407.74,173.58 L407.80,172.58 L407.86,171.59 L407.92,170.59 L407.98,169.59 L408.05,168.59 L408.11,167.59 L408.17,166.60 L408.23,165.60 L408.30,164.60 L408.36,163.60 L408.42,162.60 L408.48,161.61 L408.55,160.61 L408.61,159.61 L408.67,158.61 L408.73,157.61 L408.79,156.62 L408.85,155.62 L408.91,154.62 L408.97,153.63 L409.03,152.63 L409.09,151.63 L409.15,150.63 L409.21,149.64 L409.27,148.64 L409.33,147.64 L409.39,146.65 L409.44,145.65 L409.50,144.65 L409.56,143.66 L409.61,142.66 L409.67,141.66 L409.72,140.67 L409.77,139.67 L409.83,138.67 L409.88,137.68 L409.93,136.68 L409.98,135.68 L410.03,134.69 L410.08,133.69 L410.12,132.70 L410.17,131.70 L410.22,130.71 L410.27,129.71 L410.31,128.72 L410.36,127.72 L410.41,126.72 L410.46,125.73 L410.51,124.73 L410.57,123.74 L410.62,122.74 L410.68,121.75 L410.74,120.75 L410.80,119.76 L410.86,118.76 L410.93,117.77 L411.00,116.77 L411.07,115.78 L411.15,114.78 L411.23,113.79 L411.31,112.79 L411.40,111.80 L411.50,110.80 L411.59,109.80 L411.70,108.81 L411.80,107.81 L411.92,106.82 L412.04,105.82 L412.16,104.83 L412.29,103.83 L412.43,102.83 L412.57,101.84 L412.72,100.84 L412.88,99.85 L413.04,98.85 L413.22,97.85 L413.39,96.86 L413.58,95.86 L413.78,94.86 L413.98,93.87 L414.19,92.87 L414.41,91.87 L414.64,90.87 L414.88,89.88 L415.14,88.89 L415.45,88.06 L415.92,87.64 L416.60,87.84 L417.40,88.56 L418.14,89.54 L418.68,90.55 L419.03,91.54 L419.25,92.52 L419.38,93.50 L419.49,94.48 L419.60,95.45 L419.71,96.44 L419.83,97.42 L419.94,98.40 L420.06,99.39 L420.18,100.38 L420.30,101.37 L420.41,102.36 L420.53,103.35 L420.66,104.35 L420.78,105.34 L420.90,106.34 L421.02,107.33 L421.14,108.33 L421.26,109.33 L421.38,110.32 L421.50,111.32 L421.62,112.31 L421.74,113.31 L421.86,114.30 L421.97,115.29 L422.09,116.29 L422.21,117.28 L422.32,118.27 L422.44,119.26 L422.55,120.26 L422.67,121.25 L422.78,122.24 L422.89,123.23 L423.01,124.22 L423.12,125.21 L423.23,126.20 L423.35,127.19 L423.46,128.18 L423.57,129.17 L423.69,130.16 L423.80,131.15 L423.91,132.14 L424.03,133.13 L424.14,134.12 L424.25,135.11 L424.37,136.10 L424.48,137.09 L424.60,138.09 L424.71,139.08 L424.83,140.07 L424.94,141.06 L425.06,142.05 L425.18,143.05 L425.29,144.04 L425.41,145.04 L425.53,146.03 L425.65,147.03 L425.77,148.02 L425.89,149.02 L426.01,150.02 L426.14,151.01 L426.26,152.01 L426.39,153.01 L426.52,154.01 L426.66,155.00 L426.80,156.00 L426.95,156.99 L427.11,157.98 L427.28,158.97 L427.45,159.96 L427.64,160.94 L427.84,161.92 L428.05,162.89 L428.27,163.86 L428.51,164.83 L428.76,165.79 L429.03,166.74 L429.32,167.68 L429.63,168.62 L429.95,169.56 L430.30,170.48 L430.67,171.40 L431.06,172.31 L431.47,173.21 L431.91,174.10 L432.37,174.98 L432.86,175.85 L433.38,176.71 L433.92,177.55 L434.49,178.39 L435.10,179.22 L435.73,180.03 L436.40,180.83 L437.10,181.62 L437.83,182.39 L438.60,183.14 L439.40,183.80 L440.23,184.33 L441.08,184.67 L441.96,184.77 L442.86,184.62 L443.76,184.28 L444.64,183.77 L445.51,183.15 L446.33,182.46 L447.10,181.73 L447.82,180.97 L448.50,180.20 L449.14,179.40 L449.74,178.59 L450.32,177.76 L450.87,176.92 L451.40,176.07 L451.92,175.21 L452.42,174.35 L452.91,173.48 L453.38,172.61 L453.84,171.73 L454.28,170.84 L454.72,169.95 L455.14,169.05 L455.54,168.15 L455.94,167.25 L456.32,166.33 L456.69,165.42 L457.05,164.50 L457.39,163.57 L457.73,162.64 L458.05,161.71 L458.37,160.77 L458.67,159.83 L458.97,158.88 L459.25,157.93 L459.53,156.98 L459.79,156.02 L460.05,155.06 L460.30,154.10 L460.54,153.13 L460.77,152.16 L461.00,151.19 L461.22,150.22 L461.43,149.24 L461.63,148.26 L461.83,147.28 L462.02,146.30 L462.20,145.31 L462.38,144.32 L462.55,143.34 L462.72,142.34 L462.88,141.35 L463.04,140.36 L463.19,139.37 L463.34,138.37 L463.49,137.37 L463.63,136.38 L463.77,135.38 L463.91,134.38 L464.04,133.38 L464.17,132.39 L464.30,131.39 L464.43,130.39 L464.55,129.39 L464.68,128.39 L464.80,127.40 L464.92,126.40 L465.04,125.40 L465.17,124.41 L465.29,123.41 L465.40,122.42 L465.52,121.42 L465.64,120.43 L465.76,119.44 L465.87,118.44 L465.99,117.45 L466.10,116.46 L466.22,115.47 L466.33,114.47 L466.45,113.48 L466.56,112.49 L466.67,111.50 L466.78,110.51 L466.90,109.52 L467.01,108.53 L467.12,107.54 L467.23,106.55 L467.34,105.56 L467.45,104.57 L467.56,103.58 L467.67,102.59 L467.78,101.61 L467.89,100.62 L468.00,99.63 L468.11,98.64 L468.22,97.65 L468.33,96.66 L468.43,95.67 L468.54,94.69 L468.65,93.70 L468.76,92.71 L468.87,91.72 L468.98,90.73 L469.09,89.74 L469.20,88.75 L469.31,87.76 L469.42,86.78 L469.53,85.79 L469.64,84.80 L469.76,83.81 L469.87,82.82 L469.98,81.83 L470.09,80.84 L470.20,79.84 L470.32,78.85 L470.43,77.86 L470.55,76.87 L470.66,75.88 L470.78,74.89 L470.89,73.89 L471.01,72.90 L471.13,71.91 L471.25,70.91 L471.37,69.92 L471.49,68.92 L471.61,67.93 L471.73,66.93 L471.85,65.94 L471.98,64.94 L472.10,63.94 L472.23,62.94 L472.35,61.94 L472.48,60.94 L472.61,59.94 L472.74,58.94 L472.87,57.94 L473.00,56.94 L473.13,55.94 L473.26,54.93 L473.40,53.93 L473.54,52.93 L473.67,51.92 L473.81,50.91 L473.96,49.91 L474.12,48.91 L474.30,47.92 L474.52,46.95 L474.77,46.00 L475.08,45.07 L475.44,44.16 L475.86,43.29 L476.36,42.46 L476.93,41.68 L477.52,41.11 L478.09,40.96 L478.59,41.25 L479.04,41.91 L479.44,42.85 L479.79,43.96 L480.11,45.16 L480.39,46.36 L480.65,47.48 L480.88,48.54 L481.10,49.54 L481.30,50.52 L481.50,51.47 L481.68,52.42 L481.86,53.36 L482.04,54.32 L482.21,55.27 L482.38,56.23 L482.55,57.19 L482.71,58.15 L482.86,59.11 L483.01,60.08 L483.16,61.05 L483.31,62.02 L483.45,62.99 L483.59,63.97 L483.72,64.95 L483.86,65.93 L483.98,66.91 L484.11,67.89 L484.23,68.87 L484.36,69.86 L484.47,70.85 L484.59,71.83 L484.70,72.82 L484.82,73.82 L484.92,74.81 L485.03,75.80 L485.14,76.80 L485.24,77.79 L485.34,78.79 L485.45,79.79 L485.55,80.79 L485.64,81.79 L485.74,82.79 L485.84,83.79 L485.93,84.79 L486.03,85.80 L486.12,86.80 L486.21,87.80 L486.31,88.81 L486.40,89.81 L486.49,90.82 L486.58,91.82 L486.68,92.83 L486.77,93.83 L486.86,94.84 L486.95,95.84 L487.05,96.85 L487.14,97.85 L487.24,98.86 L487.33,99.86 L487.43,100.86 L487.53,101.87 L487.62,102.87 L487.72,103.87 L487.82,104.88 L487.93,105.88 L488.03,106.88 L488.14,107.88 L488.25,108.88 L488.36,109.87 L488.47,110.87 L488.58,111.87 L488.70,112.86 L488.82,113.85 L488.94,114.84 L489.06,115.84 L489.19,116.82 L489.32,117.81 L489.45,118.80 L489.59,119.78 L489.72,120.77 L489.87,121.75 L490.01,122.73 L490.16,123.70 L490.31,124.68 L490.47,125.65 L490.63,126.63 L490.80,127.60 L490.96,128.57 L491.14,129.53 L491.31,130.50 L491.49,131.46 L491.68,132.43 L491.86,133.39 L492.06,134.35 L492.25,135.32 L492.45,136.28 L492.66,137.24 L492.86,138.21 L493.08,139.17 L493.29,140.13 L493.51,141.10 L493.74,142.06 L493.97,143.03 L494.20,144.00 L494.44,144.97 L494.68,145.94 L494.93,146.91 L495.18,147.88 L495.44,148.86 L495.70,149.84 L495.96,150.82 L496.23,151.80 L496.50,152.79 L496.78,153.78 L497.06,154.77 L497.35,155.77 L497.64,156.77 L497.93,157.77 L498.24,158.78 L498.54,159.79 L498.86,160.79 L499.19,161.79 L499.55,162.76 L499.93,163.72 L500.34,164.65 L500.79,165.54 L501.29,166.38 L501.83,167.18 L502.42,167.92 L503.07,168.61 L503.78,169.22 L504.57,169.76 L505.42,170.22 L506.36,170.59 L507.36,170.87 L508.41,171.06 L509.49,171.17 L510.57,171.21 L511.62,171.16 L512.64,171.05 L513.61,170.86 L514.54,170.61 L515.42,170.29 L516.26,169.91 L517.06,169.47 L517.82,168.98 L518.55,168.44 L519.24,167.84 L519.89,167.20 L520.52,166.52 L521.12,165.80 L521.68,165.03 L522.23,164.24 L522.75,163.41 L523.25,162.55 L523.73,161.67 L524.19,160.76 L524.63,159.84 L525.06,158.90 L525.48,157.94 L525.88,156.97 L526.28,156.00 L526.67,155.01 L527.05,154.03 L527.44,153.05 L527.81,152.07 L528.19,151.09 L528.56,150.11 L528.93,149.14 L529.30,148.17 L529.67,147.20 L530.03,146.23 L530.39,145.26 L530.74,144.29 L531.09,143.33 L531.44,142.37 L531.78,141.40 L532.13,140.44 L532.46,139.48 L532.80,138.52 L533.12,137.57 L533.45,136.61 L533.77,135.65 L534.09,134.70 L534.40,133.75 L534.71,132.79 L535.01,131.84 L535.31,130.89 L535.60,129.93 L535.89,128.98 L536.18,128.03 L536.46,127.08 L536.73,126.13 L537.00,125.18 L537.26,124.23 L537.52,123.27 L537.77,122.32 L538.02,121.37 L538.26,120.42 L538.50,119.47 L538.73,118.51 L538.96,117.56 L539.17,116.61 L539.39,115.65 L539.59,114.70 L539.79,113.74 L539.99,112.79 L540.17,111.83 L540.35,110.87 L540.53,109.91 L540.69,108.95 L540.85,107.98 L541.01,107.02 L541.15,106.06 L541.29,105.09 L541.43,104.12 L541.55,103.15 L541.67,102.18 L541.78,101.21 L541.88,100.23 L541.97,99.25 L542.06,98.28 L542.14,97.29 L542.21,96.31 L542.28,95.33 L542.33,94.34 L542.38,93.35 L542.43,92.35 L542.49,91.35 L542.55,90.35 L542.63,89.33 L542.72,88.31 L542.83,87.28 L542.97,86.24 L543.13,85.20 L543.33,84.13 L543.56,83.06 L543.83,81.98 L544.14,80.88 L544.51,79.76 L544.92,78.63 L545.38,77.51 L545.88,76.40 L546.41,75.33 L546.96,74.33 L547.54,73.40 L548.12,72.57 L548.71,71.86 L549.29,71.29 L549.86,70.87 L550.42,70.64 L550.95,70.59 L551.45,70.75 L551.93,71.08 L552.38,71.58 L552.81,72.21 L553.22,72.98 L553.61,73.84 L553.97,74.80 L554.33,75.82 L554.66,76.90 L554.99,78.00 L555.30,79.12 L555.60,80.24 L555.89,81.35 L556.17,82.45 L556.44,83.54 L556.70,84.63 L556.95,85.71 L557.20,86.78 L557.43,87.84 L557.66,88.90 L557.89,89.95 L558.10,91.00 L558.31,92.03 L558.51,93.07 L558.70,94.09 L558.89,95.12 L559.08,96.13 L559.26,97.14 L559.43,98.15 L559.60,99.15 L559.77,100.15 L559.93,101.14 L560.09,102.13 L560.25,103.11 L560.40,104.09 L560.55,105.07 L560.70,106.04 L560.85,107.01 L561.00,107.98 L561.14,108.94 L561.29,109.91 L561.43,110.87 L561.58,111.82 L561.72,112.78 L561.87,113.73 L562.02,114.69 L562.17,115.64 L562.32,116.59 L562.47,117.54 L562.62,118.49 L562.78,119.43 L562.94,120.38 L563.11,121.33 L563.27,122.28 L563.45,123.22 L563.62,124.17 L563.80,125.12 L563.99,126.07 L564.18,127.02 L564.38,127.97 L564.58,128.93 L564.79,129.88 L565.01,130.84 L565.23,131.80 L565.46,132.76 L565.69,133.72 L565.93,134.68 L566.17,135.64 L566.41,136.61 L566.66,137.58 L566.91,138.54 L567.17,139.51 L567.43,140.49 L567.69,141.46 L567.95,142.43 L568.21,143.41 L568.47,144.38 L568.74,145.36 L569.00,146.34 L569.27,147.32 L569.53,148.30 L569.80,149.28 L570.06,150.26 L570.33,151.24 L570.59,152.22 L570.84,153.21 L571.10,154.19 L571.36,155.18 L571.61,156.17 L571.87,157.15 L572.13,158.13 L572.38,159.12 L572.65,160.10 L572.91,161.08 L573.18,162.05 L573.45,163.03 L573.73,164.00 L574.02,164.96 L574.31,165.93 L574.61,166.89 L574.92,167.84 L575.23,168.79 L575.56,169.73 L575.90,170.67 L576.25,171.61 L576.61,172.53 L576.98,173.45 L577.37,174.36 L577.77,175.26 L578.19,176.16 L578.62,177.05 L579.07,177.93 L579.53,178.79 L580.01,179.65 L580.52,180.50 L581.04,181.34 L581.58,182.17 L582.14,182.99 L582.72,183.80 L583.33,184.59 L583.95,185.37 L584.60,186.14 L585.28,186.90 L585.98,187.64 L586.71,188.37 L587.46,189.09 L588.23,189.79 L589.03,190.46 L589.85,191.12 L590.68,191.75 L591.53,192.36 L592.40,192.94 L593.28,193.48 L594.18,194.00 L595.08,194.48 L595.99,194.92 L596.91,195.32 L597.84,195.68 L598.77,196.00 L599.70,196.27 L600.63,196.49 L601.55,196.66 L602.48,196.77 L603.40,196.83 L604.32,196.84 L605.22,196.78 L606.12,196.66 L607.01,196.48 L607.88,196.23 L608.74,195.91 L609.58,195.52 L610.40,195.05 L611.21,194.52 L611.99,193.91 L612.75,193.25 L613.50,192.53 L614.22,191.76 L614.92,190.94 L615.60,190.09 L616.25,189.20 L616.89,188.28 L617.49,187.34 L618.08,186.39 L618.64,185.42 L619.17,184.45 L619.68,183.47 L620.16,182.51 L620.62,181.55 L621.05,180.61 L621.45,179.68 L621.84,178.77 L622.20,177.86 L622.54,176.96 L622.87,176.07 L623.19,175.18 L623.50,174.29 L623.79,173.40 L624.08,172.50 L624.37,171.61 L624.66,170.70 L624.94,169.79 L625.22,168.87 L625.51,167.94 L625.79,167.01 L626.07,166.07 L626.35,165.13 L626.63,164.18 L626.90,163.23 L627.18,162.27 L627.46,161.31 L627.73,160.35 L628.01,159.38 L628.28,158.40 L628.55,157.43 L628.83,156.45 L629.10,155.47 L629.37,154.49 L629.64,153.51 L629.91,152.53 L630.19,151.54 L630.46,150.56 L630.73,149.57 L631.00,148.59 L631.27,147.60 L631.54,146.62 L631.81,145.64 L632.08,144.66 L632.35,143.68 L632.62,142.71 L632.89,141.73 L633.16,140.76 L633.43,139.80 L633.70,138.83 L633.97,137.88 L634.24,136.92 L634.52,135.97 L634.79,135.03 L635.06,134.09 L635.33,133.15 L635.60,132.22 L635.87,131.29 L636.14,130.35 L636.40,129.42 L636.66,128.48 L636.92,127.55 L637.17,126.60 L637.42,125.66 L637.66,124.71 L637.90,123.75 L638.12,122.78 L638.34,121.80 L638.56,120.82 L638.76,119.82 L638.96,118.81 L639.14,117.79 L639.32,116.76 L639.49,115.71 L639.64,114.64 L639.79,113.56 L639.95,112.49 L640.14,111.44 L640.38,110.42 L640.69,109.46 L641.09,108.57 L641.59,107.78 L642.21,107.08 L642.98,106.51 L643.88,106.08 L644.82,105.81 L645.71,105.73 L646.48,105.85 L647.13,106.16 L647.68,106.63 L648.13,107.25 L648.50,107.99 L648.80,108.84 L649.04,109.79 L649.24,110.80 L649.40,111.87 L649.54,112.97 L649.67,114.08 L649.81,115.19 L649.95,116.28 L650.10,117.35 L650.26,118.42 L650.43,119.46 L650.61,120.50 L650.79,121.52 L650.98,122.53 L651.18,123.53 L651.38,124.52 L651.59,125.50 L651.80,126.48 L652.01,127.44 L652.23,128.41 L652.45,129.36 L652.67,130.32 L652.89,131.26 L653.12,132.21 L653.34,133.16 L653.56,134.10 L653.79,135.05 L654.01,135.99 L654.23,136.94 L654.45,137.89 L654.66,138.84 L654.88,139.80 L655.09,140.75 L655.30,141.71 L655.51,142.67 L655.72,143.63 L655.93,144.59 L656.14,145.56 L656.34,146.52 L656.55,147.49 L656.75,148.46 L656.96,149.43 L657.16,150.40 L657.36,151.37 L657.56,152.34 L657.77,153.31 L657.97,154.29 L658.17,155.26 L658.37,156.24 L658.58,157.22 L658.78,158.19 L658.98,159.17 L659.19,160.15 L659.39,161.13 L659.60,162.11 L659.80,163.09 L660.01,164.07 L660.22,165.05 L660.43,166.03 L660.64,167.02 L660.85,168.00 L661.06,168.98 L661.28,169.96 L661.49,170.94 L661.71,171.92 L661.93,172.90 L662.15,173.89 L662.37,174.87 L662.60,175.85 L662.83,176.83 L663.06,177.81 L663.29,178.78 L663.53,179.76 L663.77,180.74 L664.01,181.72 L664.25,182.69 L664.50,183.67 L664.75,184.64 L665.00,185.61 L665.25,186.59 L665.51,187.56 L665.78,188.53 L666.04,189.50 L666.31,190.46 L666.59,191.43 L666.86,192.39 L667.15,193.36 L667.43,194.32 L667.72,195.28 L668.01,196.24 L668.31,197.19 L668.62,198.15 L668.92,199.10 L669.24,200.05 L669.55,201.00 L669.87,201.95 L670.20,202.89 L670.53,203.84 L670.87,204.78 L671.21,205.72 L671.56,206.65 L671.91,207.59 L672.27,208.52 L672.64,209.45 L673.01,210.37 L673.38,211.30 L673.76,212.22 L674.15,213.14 L674.55,214.05 L674.95,214.96 L675.35,215.87 L675.77,216.78 L676.19,217.68 L676.62,218.58 L677.05,219.48 L677.49,220.38 L677.94,221.27 L678.39,222.16 L678.85,223.04 L679.32,223.92 L679.80,224.80 L680.28,225.67 L680.77,226.54 L681.27,227.41 L681.78,228.27 L682.30,229.13 L682.82,229.98 L683.35,230.83" fill="none" stroke="#0000ff" stroke-width="1.15" stroke-linejoin="round"/>
<path d="M406.50,229.50 L406.52,228.50 L406.55,227.50 L406.58,226.50 L406.60,225.50 L406.63,224.51 L406.67,223.51 L406.70,222.51 L406.73,221.51 L406.77,220.51 L406.80,219.51 L406.84,218.52 L406.88,217.52 L406.92,216.52 L406.96,215.52 L407.00,214.52 L407.05,213.53 L407.09,212.53 L407.14,211.53 L407.19,210.53 L407.24,209.53 L407.28,208.54 L407.33,207.54 L407.39,206.54 L407.44,205.54 L407.49,204.54 L407.55,203.55 L407.60,202.55 L407.66,201.55 L407.71,200.55 L407.77,199.55 L407.83,198.56 L407.89,197.56 L407.95,196.56 L408.01,195.56 L408.07,194.57 L408.13,193.57 L408.19,192.57 L408.25,191.57 L408.32,190.58 L408.38,189.58 L408.44,188.58 L408.51,187.59 L408.57,186.59 L408.64,185.59 L408.71,184.59 L408.77,183.60 L408.84,182.60 L408.90,181.60 L408.97,180.61 L409.04,179.61 L409.11,178.61 L409.17,177.61 L409.24,176.62 L409.31,175.62 L409.38,174.62 L409.45,173.63 L409.52,172.63 L409.58,171.63 L409.65,170.64 L409.72,169.64 L409.79,168.65 L409.86,167.65 L409.93,166.65 L409.99,165.66 L410.06,164.66 L410.13,163.66 L410.20,162.67 L410.26,161.67 L410.33,160.68 L410.40,159.68 L410.46,158.68 L410.53,157.69 L410.60,156.69 L410.66,155.70 L410.73,154.70 L410.79,153.71 L410.85,152.71 L410.92,151.72 L410.98,150.72 L411.04,149.72 L411.10,148.73 L411.16,147.73 L411.23,146.74 L411.29,145.74 L411.34,144.75 L411.40,143.75 L411.46,142.76 L411.52,141.76 L411.57,140.77 L411.63,139.77 L411.68,138.78 L411.74,137.79 L411.79,136.79 L411.84,135.80 L411.89,134.80 L411.94,133.81 L412.00,132.81 L412.05,131.82 L412.11,130.82 L412.17,129.83 L412.24,128.83 L412.31,127.84 L412.39,126.84 L412.48,125.84 L412.57,124.84 L412.68,123.84 L412.80,122.84 L412.93,121.84 L413.07,120.83 L413.22,119.83 L413.39,118.82 L413.58,117.82 L413.78,116.81 L414.00,115.80 L414.24,114.78 L414.49,113.77 L414.77,112.75 L415.07,111.73 L415.39,110.72 L415.74,109.74 L416.11,108.86 L416.52,108.11 L416.96,107.54 L417.44,107.20 L417.96,107.14 L418.52,107.37 L419.09,107.84 L419.66,108.51 L420.22,109.33 L420.73,110.27 L421.19,111.27 L421.58,112.30 L421.91,113.34 L422.19,114.39 L422.42,115.44 L422.64,116.48 L422.84,117.53 L423.04,118.56 L423.23,119.60 L423.41,120.62 L423.59,121.64 L423.77,122.65 L423.96,123.66 L424.14,124.65 L424.33,125.64 L424.53,126.62 L424.73,127.60 L424.95,128.56 L425.18,129.52 L425.42,130.46 L425.68,131.40 L425.95,132.32 L426.25,133.24 L426.56,134.14 L426.91,135.04 L427.27,135.92 L427.66,136.79 L428.08,137.65 L428.53,138.50 L429.00,139.34 L429.49,140.18 L430.00,141.02 L430.54,141.85 L431.09,142.69 L431.66,143.52 L432.25,144.36 L432.86,145.21 L433.48,146.06 L434.11,146.91 L434.76,147.78 L435.42,148.66 L436.09,149.54 L436.78,150.40 L437.49,151.23 L438.22,152.00 L438.98,152.71 L439.76,153.33 L440.58,153.86 L441.42,154.27 L442.29,154.58 L443.18,154.79 L444.09,154.91 L445.01,154.94 L445.94,154.88 L446.87,154.74 L447.80,154.53 L448.72,154.24 L449.63,153.89 L450.53,153.48 L451.40,153.01 L452.25,152.49 L453.07,151.92 L453.85,151.31 L454.60,150.66 L455.31,149.97 L455.98,149.25 L456.62,148.49 L457.22,147.70 L457.79,146.89 L458.33,146.04 L458.84,145.18 L459.32,144.28 L459.78,143.37 L460.20,142.44 L460.61,141.49 L460.98,140.52 L461.34,139.54 L461.67,138.55 L461.99,137.55 L462.28,136.54 L462.56,135.52 L462.82,134.50 L463.07,133.48 L463.31,132.46 L463.53,131.43 L463.74,130.41 L463.94,129.40 L464.13,128.39 L464.32,127.40 L464.50,126.41 L464.67,125.43 L464.84,124.46 L465.00,123.49 L465.16,122.53 L465.31,121.58 L465.46,120.63 L465.60,119.68 L465.74,118.73 L465.87,117.78 L466.01,116.83 L466.14,115.88 L466.26,114.93 L466.39,113.97 L466.51,113.01 L466.63,112.04 L466.75,111.06 L466.87,110.08 L466.98,109.09 L467.09,108.10 L467.21,107.10 L467.32,106.10 L467.43,105.09 L467.53,104.08 L467.64,103.07 L467.75,102.05 L467.85,101.03 L467.96,100.01 L468.06,98.99 L468.17,97.96 L468.27,96.93 L468.37,95.91 L468.47,94.88 L468.58,93.85 L468.68,92.82 L468.78,91.79 L468.88,90.76 L468.98,89.73 L469.08,88.70 L469.19,87.67 L469.29,86.65 L469.39,85.62 L469.50,84.60 L469.60,83.59 L469.71,82.57 L469.81,81.56 L469.92,80.55 L470.03,79.55 L470.14,78.55 L470.25,77.56 L470.36,76.57 L470.47,75.58 L470.59,74.60 L470.71,73.63 L470.82,72.66 L470.94,71.70 L471.07,70.75 L471.19,69.81 L471.32,68.87 L471.45,67.94 L471.58,67.01 L471.71,66.10 L471.84,65.19 L471.98,64.27 L472.12,63.36 L472.26,62.44 L472.40,61.52 L472.55,60.58 L472.69,59.63 L472.84,58.67 L472.99,57.69 L473.14,56.69 L473.29,55.66 L473.44,54.61 L473.60,53.53 L473.75,52.42 L473.91,51.27 L474.07,50.10 L474.24,48.92 L474.42,47.76 L474.63,46.63 L474.86,45.56 L475.13,44.58 L475.44,43.70 L475.79,42.95 L476.20,42.35 L476.67,41.91 L477.18,41.67 L477.72,41.63 L478.25,41.81 L478.76,42.21 L479.21,42.85 L479.62,43.66 L479.98,44.60 L480.31,45.61 L480.60,46.63 L480.87,47.65 L481.12,48.67 L481.35,49.69 L481.56,50.71 L481.75,51.72 L481.92,52.74 L482.09,53.75 L482.24,54.76 L482.39,55.77 L482.54,56.78 L482.68,57.78 L482.82,58.79 L482.95,59.79 L483.09,60.80 L483.22,61.80 L483.34,62.80 L483.47,63.80 L483.59,64.80 L483.71,65.80 L483.83,66.80 L483.95,67.80 L484.06,68.79 L484.17,69.79 L484.28,70.78 L484.39,71.78 L484.50,72.77 L484.61,73.76 L484.71,74.75 L484.82,75.74 L484.92,76.73 L485.02,77.72 L485.12,78.71 L485.23,79.70 L485.33,80.69 L485.43,81.68 L485.53,82.67 L485.63,83.65 L485.73,84.64 L485.83,85.63 L485.93,86.61 L486.03,87.60 L486.14,88.58 L486.24,89.57 L486.34,90.55 L486.45,91.54 L486.55,92.52 L486.66,93.51 L486.77,94.49 L486.88,95.48 L486.99,96.46 L487.10,97.45 L487.21,98.43 L487.33,99.42 L487.45,100.41 L487.57,101.39 L487.69,102.38 L487.82,103.36 L487.94,104.35 L488.07,105.34 L488.21,106.32 L488.34,107.31 L488.48,108.30 L488.62,109.29 L488.77,110.27 L488.91,111.26 L489.07,112.25 L489.22,113.24 L489.38,114.23 L489.54,115.22 L489.71,116.22 L489.88,117.21 L490.05,118.20 L490.23,119.20 L490.42,120.19 L490.61,121.19 L490.80,122.18 L491.00,123.18 L491.20,124.18 L491.41,125.18 L491.62,126.18 L491.84,127.18 L492.08,128.17 L492.33,129.16 L492.59,130.13 L492.88,131.10 L493.20,132.05 L493.54,132.99 L493.91,133.91 L494.32,134.80 L494.76,135.67 L495.25,136.52 L495.78,137.33 L496.35,138.12 L496.98,138.87 L497.66,139.59 L498.39,140.26 L499.19,140.90 L500.04,141.49 L500.95,142.02 L501.88,142.47 L502.84,142.84 L503.80,143.11 L504.77,143.27 L505.72,143.31 L506.66,143.23 L507.59,143.05 L508.51,142.78 L509.41,142.43 L510.30,142.00 L511.18,141.51 L512.05,140.96 L512.91,140.37 L513.75,139.74 L514.58,139.09 L515.41,138.43 L516.21,137.75 L517.01,137.08 L517.80,136.41 L518.57,135.73 L519.32,135.06 L520.07,134.38 L520.80,133.69 L521.51,133.00 L522.20,132.30 L522.88,131.59 L523.54,130.88 L524.18,130.15 L524.81,129.42 L525.43,128.68 L526.04,127.94 L526.64,127.18 L527.24,126.43 L527.83,125.67 L528.42,124.90 L529.01,124.13 L529.60,123.37 L530.20,122.60 L530.80,121.83 L531.41,121.06 L532.03,120.29 L532.66,119.52 L533.30,118.76 L533.97,117.99 L534.65,117.24 L535.34,116.49 L536.07,115.74 L536.81,115.00 L537.58,114.27 L538.38,113.54 L539.21,112.82 L540.07,112.12 L540.95,111.43 L541.86,110.78 L542.78,110.18 L543.72,109.63 L544.65,109.16 L545.59,108.77 L546.52,108.48 L547.44,108.30 L548.34,108.24 L549.22,108.31 L550.07,108.52 L550.91,108.85 L551.71,109.27 L552.50,109.79 L553.28,110.38 L554.03,111.03 L554.77,111.74 L555.49,112.47 L556.20,113.23 L556.90,113.99 L557.59,114.76 L558.26,115.53 L558.93,116.31 L559.59,117.09 L560.24,117.88 L560.87,118.67 L561.50,119.47 L562.12,120.27 L562.74,121.07 L563.34,121.88 L563.94,122.69 L564.53,123.50 L565.11,124.31 L565.69,125.13 L566.27,125.95 L566.83,126.78 L567.40,127.60 L567.95,128.43 L568.51,129.26 L569.06,130.09 L569.60,130.92 L570.15,131.75 L570.69,132.58 L571.23,133.42 L571.76,134.25 L572.30,135.08 L572.83,135.92 L573.37,136.75 L573.90,137.59 L574.43,138.42 L574.97,139.25 L575.50,140.08 L576.04,140.91 L576.58,141.74 L577.12,142.57 L577.66,143.40 L578.20,144.22 L578.75,145.04 L579.30,145.86 L579.86,146.68 L580.42,147.49 L580.98,148.31 L581.55,149.11 L582.13,149.92 L582.71,150.72 L583.30,151.52 L583.89,152.31 L584.49,153.10 L585.10,153.89 L585.72,154.67 L586.34,155.44 L586.98,156.22 L587.62,156.98 L588.27,157.74 L588.93,158.50 L589.61,159.25 L590.29,159.99 L590.98,160.73 L591.69,161.46 L592.40,162.19 L593.13,162.91 L593.87,163.62 L594.62,164.32 L595.39,165.02 L596.17,165.70 L596.96,166.37 L597.77,167.02 L598.58,167.66 L599.41,168.27 L600.25,168.85 L601.10,169.41 L601.96,169.93 L602.84,170.43 L603.72,170.88 L604.62,171.30 L605.53,171.68 L606.44,172.01 L607.37,172.30 L608.31,172.53 L609.26,172.72 L610.22,172.85 L611.18,172.92 L612.16,172.93 L613.14,172.88 L614.11,172.77 L615.08,172.60 L616.03,172.36 L616.96,172.07 L617.86,171.70 L618.73,171.28 L619.55,170.79 L620.34,170.23 L621.08,169.62 L621.78,168.95 L622.44,168.22 L623.06,167.45 L623.64,166.64 L624.20,165.78 L624.72,164.89 L625.21,163.97 L625.67,163.03 L626.11,162.06 L626.52,161.07 L626.91,160.08 L627.28,159.07 L627.63,158.05 L627.97,157.04 L628.29,156.03 L628.59,155.03 L628.89,154.04 L629.18,153.06 L629.45,152.10 L629.73,151.14 L630.00,150.20 L630.26,149.26 L630.53,148.34 L630.80,147.41 L631.07,146.49 L631.35,145.58 L631.64,144.66 L631.94,143.75 L632.25,142.83 L632.56,141.91 L632.89,140.98 L633.23,140.06 L633.57,139.13 L633.92,138.19 L634.26,137.26 L634.60,136.31 L634.93,135.37 L635.26,134.42 L635.58,133.46 L635.88,132.51 L636.17,131.54 L636.44,130.57 L636.68,129.60 L636.91,128.62 L637.11,127.63 L637.29,126.64 L637.46,125.65 L637.62,124.65 L637.77,123.65 L637.91,122.65 L638.05,121.65 L638.19,120.65 L638.34,119.66 L638.50,118.66 L638.67,117.66 L638.86,116.67 L639.07,115.69 L639.30,114.71 L639.56,113.73 L639.86,112.76 L640.18,111.80 L640.55,110.84 L640.95,109.90 L641.40,108.96 L641.90,108.04 L642.45,107.17 L643.04,106.40 L643.66,105.76 L644.31,105.30 L644.99,105.07 L645.69,105.10 L646.40,105.38 L647.08,105.88 L647.72,106.55 L648.28,107.36 L648.76,108.28 L649.11,109.26 L649.36,110.28 L649.52,111.34 L649.62,112.42 L649.69,113.50 L649.74,114.58 L649.81,115.65 L649.91,116.70 L650.03,117.73 L650.17,118.74 L650.33,119.74 L650.51,120.72 L650.71,121.70 L650.92,122.66 L651.14,123.62 L651.36,124.57 L651.60,125.52 L651.84,126.46 L652.08,127.41 L652.32,128.35 L652.56,129.30 L652.79,130.24 L653.03,131.20 L653.26,132.15 L653.48,133.11 L653.71,134.07 L653.93,135.03 L654.15,136.00 L654.37,136.96 L654.59,137.93 L654.80,138.91 L655.02,139.88 L655.23,140.86 L655.45,141.83 L655.66,142.81 L655.87,143.79 L656.08,144.77 L656.29,145.75 L656.51,146.74 L656.72,147.72 L656.93,148.71 L657.14,149.69 L657.36,150.68 L657.58,151.66 L657.79,152.65 L658.01,153.63 L658.23,154.62 L658.46,155.61 L658.68,156.59 L658.91,157.58 L659.14,158.56 L659.38,159.54 L659.61,160.53 L659.85,161.51 L660.10,162.49 L660.34,163.46 L660.59,164.44 L660.85,165.42 L661.11,166.39 L661.37,167.36 L661.64,168.33 L661.92,169.30 L662.20,170.27 L662.48,171.23 L662.77,172.19 L663.07,173.15 L663.37,174.10 L663.68,175.05 L663.99,176.00 L664.31,176.95 L664.64,177.89 L664.97,178.83 L665.31,179.76 L665.66,180.69 L666.02,181.62 L666.39,182.54 L666.76,183.46 L667.14,184.38 L667.53,185.29 L667.93,186.19 L668.33,187.10 L668.75,187.99 L669.17,188.88 L669.61,189.77 L670.05,190.65 L670.51,191.52 L670.97,192.39 L671.45,193.26 L671.93,194.12 L672.43,194.97 L672.93,195.82 L673.45,196.66 L673.98,197.49 L674.52,198.32 L675.07,199.14 L675.64,199.95 L676.21,200.76 L676.80,201.56 L677.40,202.35 L678.02,203.14 L678.64,203.91 L679.28,204.68 L679.94,205.45 L680.60,206.20 L681.28,206.95 L681.98,207.69 L682.69,208.42 L683.41,209.14 L684.15,209.85 L684.90,210.56" fill="none" stroke="#000" stroke-width="1.15" stroke-linejoin="round"/>
<path d="M411.39,229.52 L411.60,228.51 L411.80,227.50 L411.97,226.49 L412.13,225.48 L412.27,224.48 L412.39,223.49 L412.50,222.49 L412.60,221.50 L412.69,220.52 L412.77,219.53 L412.84,218.55 L412.90,217.56 L412.96,216.58 L413.02,215.60 L413.07,214.62 L413.12,213.64 L413.17,212.66 L413.23,211.68 L413.29,210.69 L413.35,209.71 L413.42,208.72 L413.50,207.74 L413.59,206.75 L413.69,205.76 L413.80,204.76 L413.92,203.76 L414.06,202.76 L414.22,201.76 L414.39,200.75 L414.59,199.73 L414.80,198.71 L415.04,197.69 L415.30,196.66 L415.59,195.62 L415.90,194.58 L416.24,193.57 L416.63,192.63 L417.07,191.80 L417.56,191.12 L418.12,190.65 L418.75,190.42 L419.46,190.47 L420.24,190.78 L421.08,191.28 L421.97,191.90 L422.88,192.57 L423.81,193.22 L424.75,193.77 L425.67,194.18 L426.57,194.46 L427.47,194.61 L428.35,194.64 L429.22,194.55 L430.07,194.36 L430.92,194.07 L431.74,193.68 L432.56,193.22 L433.35,192.67 L434.13,192.06 L434.90,191.39 L435.65,190.66 L436.38,189.89 L437.10,189.08 L437.80,188.24 L438.48,187.38 L439.14,186.50 L439.78,185.61 L440.40,184.72 L441.01,183.83 L441.60,182.95 L442.17,182.06 L442.72,181.18 L443.26,180.30 L443.78,179.42 L444.28,178.54 L444.77,177.65 L445.25,176.77 L445.72,175.89 L446.17,175.01 L446.61,174.13 L447.04,173.24 L447.46,172.36 L447.86,171.47 L448.26,170.58 L448.65,169.69 L449.04,168.79 L449.41,167.90 L449.78,166.99 L450.14,166.09 L450.50,165.18 L450.85,164.27 L451.20,163.35 L451.54,162.43 L451.88,161.51 L452.21,160.59 L452.54,159.66 L452.86,158.72 L453.18,157.79 L453.49,156.85 L453.81,155.91 L454.11,154.97 L454.42,154.02 L454.72,153.07 L455.01,152.12 L455.31,151.17 L455.60,150.21 L455.88,149.25 L456.17,148.29 L456.45,147.33 L456.73,146.37 L457.01,145.40 L457.28,144.44 L457.55,143.47 L457.82,142.50 L458.09,141.53 L458.36,140.56 L458.62,139.59 L458.89,138.62 L459.15,137.65 L459.41,136.67 L459.67,135.70 L459.93,134.72 L460.19,133.75 L460.45,132.78 L460.70,131.80 L460.96,130.83 L461.22,129.85 L461.47,128.88 L461.73,127.90 L461.99,126.93 L462.24,125.96 L462.50,124.99 L462.76,124.02 L463.01,123.04 L463.27,122.07 L463.52,121.10 L463.77,120.13 L464.02,119.16 L464.27,118.19 L464.51,117.22 L464.75,116.25 L464.99,115.28 L465.23,114.31 L465.46,113.34 L465.69,112.37 L465.92,111.40 L466.14,110.43 L466.36,109.46 L466.58,108.49 L466.79,107.52 L466.99,106.55 L467.19,105.58 L467.38,104.61 L467.57,103.64 L467.75,102.67 L467.93,101.70 L468.10,100.72 L468.27,99.75 L468.42,98.78 L468.57,97.80 L468.71,96.83 L468.85,95.85 L468.98,94.88 L469.10,93.90 L469.22,92.92 L469.33,91.94 L469.44,90.97 L469.55,89.99 L469.64,89.00 L469.74,88.02 L469.83,87.04 L469.92,86.06 L470.01,85.08 L470.09,84.09 L470.17,83.11 L470.25,82.12 L470.33,81.13 L470.41,80.14 L470.49,79.15 L470.57,78.16 L470.65,77.17 L470.73,76.18 L470.81,75.19 L470.89,74.19 L470.97,73.20 L471.06,72.20 L471.15,71.20 L471.24,70.21 L471.33,69.21 L471.43,68.20 L471.53,67.20 L471.64,66.20 L471.75,65.19 L471.87,64.19 L471.99,63.18 L472.12,62.17 L472.25,61.16 L472.40,60.15 L472.54,59.14 L472.70,58.13 L472.86,57.11 L473.04,56.09 L473.22,55.08 L473.41,54.06 L473.61,53.04 L473.81,52.01 L474.03,50.99 L474.26,49.96 L474.50,48.94 L474.75,47.91 L475.02,46.88 L475.29,45.85 L475.58,44.82 L475.88,43.84 L476.20,42.95 L476.53,42.21 L476.89,41.66 L477.27,41.36 L477.67,41.36 L478.10,41.67 L478.54,42.23 L478.98,42.99 L479.42,43.90 L479.83,44.90 L480.23,45.95 L480.59,47.00 L480.91,48.03 L481.20,49.06 L481.47,50.08 L481.70,51.09 L481.92,52.09 L482.11,53.09 L482.28,54.08 L482.43,55.06 L482.56,56.05 L482.69,57.03 L482.80,58.00 L482.90,58.98 L483.00,59.95 L483.10,60.93 L483.19,61.91 L483.28,62.88 L483.37,63.86 L483.47,64.85 L483.56,65.83 L483.66,66.82 L483.75,67.80 L483.85,68.79 L483.95,69.78 L484.05,70.77 L484.16,71.76 L484.26,72.76 L484.37,73.75 L484.47,74.74 L484.58,75.74 L484.69,76.74 L484.80,77.73 L484.92,78.73 L485.03,79.73 L485.15,80.73 L485.27,81.72 L485.39,82.72 L485.51,83.72 L485.64,84.72 L485.76,85.72 L485.89,86.72 L486.03,87.71 L486.16,88.71 L486.30,89.71 L486.44,90.71 L486.58,91.70 L486.72,92.70 L486.87,93.69 L487.02,94.69 L487.17,95.68 L487.33,96.67 L487.49,97.66 L487.65,98.65 L487.81,99.64 L487.98,100.62 L488.15,101.61 L488.32,102.59 L488.50,103.58 L488.68,104.56 L488.86,105.54 L489.05,106.52 L489.24,107.50 L489.43,108.48 L489.63,109.45 L489.83,110.43 L490.03,111.40 L490.24,112.37 L490.45,113.34 L490.67,114.31 L490.88,115.28 L491.10,116.25 L491.33,117.22 L491.56,118.18 L491.79,119.14 L492.03,120.11 L492.27,121.07 L492.51,122.03 L492.76,122.99 L493.02,123.95 L493.27,124.91 L493.53,125.86 L493.80,126.82 L494.07,127.77 L494.34,128.72 L494.62,129.68 L494.90,130.63 L495.19,131.58 L495.48,132.53 L495.77,133.47 L496.07,134.42 L496.38,135.37 L496.68,136.31 L497.00,137.25 L497.31,138.20 L497.64,139.14 L497.96,140.08 L498.30,141.02 L498.63,141.96 L498.97,142.90 L499.32,143.83 L499.67,144.77 L500.03,145.70 L500.39,146.64 L500.76,147.57 L501.13,148.50 L501.50,149.43 L501.89,150.36 L502.27,151.29 L502.67,152.22 L503.06,153.14 L503.47,154.07 L503.88,154.99 L504.29,155.91 L504.71,156.83 L505.14,157.74 L505.57,158.66 L506.01,159.57 L506.46,160.47 L506.91,161.38 L507.37,162.27 L507.83,163.17 L508.30,164.06 L508.78,164.95 L509.27,165.83 L509.76,166.71 L510.26,167.58 L510.77,168.45 L511.28,169.31 L511.81,170.17 L512.34,171.02 L512.87,171.86 L513.42,172.70 L513.97,173.53 L514.54,174.36 L515.11,175.18 L515.68,175.99 L516.27,176.79 L516.87,177.59 L517.47,178.38 L518.08,179.16 L518.71,179.93 L519.34,180.69 L519.98,181.45 L520.63,182.20 L521.28,182.93 L521.95,183.66 L522.63,184.38 L523.32,185.09 L524.01,185.79 L524.72,186.48 L525.44,187.16 L526.16,187.83 L526.90,188.48 L527.65,189.13 L528.40,189.77 L529.17,190.39 L529.95,191.00 L530.74,191.60 L531.54,192.19 L532.35,192.77 L533.17,193.33 L534.01,193.88 L534.85,194.42 L535.71,194.94 L536.57,195.45 L537.44,195.95 L538.33,196.43 L539.22,196.90 L540.12,197.36 L541.02,197.79 L541.94,198.22 L542.86,198.63 L543.79,199.02 L544.73,199.39 L545.67,199.75 L546.62,200.10 L547.57,200.42 L548.53,200.73 L549.50,201.02 L550.46,201.30 L551.44,201.55 L552.41,201.79 L553.39,202.01 L554.37,202.21 L555.36,202.39 L556.34,202.55 L557.33,202.70 L558.32,202.82 L559.31,202.92 L560.31,203.00 L561.30,203.06 L562.29,203.10 L563.28,203.12 L564.27,203.11 L565.27,203.09 L566.25,203.04 L567.24,202.97 L568.23,202.88 L569.21,202.78 L570.19,202.64 L571.17,202.49 L572.15,202.32 L573.12,202.13 L574.09,201.92 L575.05,201.69 L576.01,201.45 L576.97,201.18 L577.92,200.89 L578.87,200.59 L579.81,200.27 L580.75,199.93 L581.68,199.58 L582.60,199.20 L583.52,198.81 L584.43,198.41 L585.34,197.98 L586.23,197.54 L587.12,197.09 L588.01,196.62 L588.88,196.13 L589.75,195.63 L590.61,195.11 L591.45,194.58 L592.29,194.04 L593.13,193.48 L593.95,192.91 L594.76,192.32 L595.56,191.72 L596.35,191.11 L597.13,190.48 L597.90,189.84 L598.66,189.19 L599.40,188.53 L600.14,187.86 L600.86,187.17 L601.58,186.48 L602.28,185.77 L602.97,185.06 L603.66,184.33 L604.33,183.60 L605.00,182.86 L605.65,182.11 L606.30,181.35 L606.94,180.59 L607.57,179.82 L608.20,179.04 L608.82,178.26 L609.43,177.48 L610.03,176.68 L610.63,175.89 L611.21,175.08 L611.80,174.27 L612.37,173.46 L612.94,172.64 L613.50,171.82 L614.05,170.99 L614.59,170.16 L615.13,169.32 L615.66,168.47 L616.19,167.63 L616.70,166.77 L617.21,165.92 L617.72,165.06 L618.21,164.19 L618.70,163.32 L619.18,162.45 L619.65,161.57 L620.12,160.69 L620.58,159.81 L621.03,158.92 L621.48,158.03 L621.92,157.14 L622.35,156.24 L622.77,155.34 L623.19,154.43 L623.60,153.52 L624.00,152.61 L624.40,151.70 L624.79,150.78 L625.17,149.86 L625.55,148.94 L625.92,148.02 L626.28,147.09 L626.64,146.16 L626.99,145.23 L627.33,144.30 L627.66,143.36 L627.99,142.43 L628.32,141.49 L628.64,140.55 L628.95,139.60 L629.26,138.66 L629.57,137.71 L629.87,136.77 L630.17,135.82 L630.46,134.87 L630.75,133.91 L631.04,132.96 L631.33,132.01 L631.61,131.05 L631.90,130.09 L632.18,129.14 L632.46,128.18 L632.74,127.22 L633.02,126.26 L633.30,125.30 L633.57,124.34 L633.85,123.38 L634.13,122.41 L634.41,121.45 L634.70,120.49 L634.98,119.53 L635.27,118.56 L635.56,117.60 L635.85,116.64 L636.14,115.68 L636.44,114.71 L636.74,113.75 L637.04,112.79 L637.35,111.83 L637.66,110.87 L637.98,109.90 L638.30,108.94 L638.63,107.99 L638.97,107.03 L639.33,106.09 L639.72,105.16 L640.14,104.25 L640.60,103.36 L641.10,102.49 L641.66,101.66 L642.27,100.86 L642.95,100.12 L643.68,99.50 L644.45,99.08 L645.24,98.94 L646.05,99.15 L646.84,99.62 L647.60,100.28 L648.29,101.04 L648.91,101.85 L649.45,102.69 L649.93,103.56 L650.35,104.45 L650.71,105.37 L651.02,106.31 L651.29,107.27 L651.52,108.25 L651.72,109.24 L651.89,110.23 L652.05,111.24 L652.19,112.25 L652.32,113.27 L652.45,114.28 L652.59,115.29 L652.73,116.30 L652.89,117.30 L653.05,118.30 L653.22,119.29 L653.39,120.28 L653.58,121.27 L653.77,122.25 L653.96,123.23 L654.17,124.20 L654.38,125.17 L654.59,126.14 L654.81,127.11 L655.03,128.08 L655.26,129.04 L655.49,130.00 L655.72,130.97 L655.96,131.93 L656.20,132.89 L656.45,133.84 L656.69,134.80 L656.94,135.76 L657.19,136.72 L657.44,137.68 L657.69,138.64 L657.94,139.60 L658.20,140.56 L658.45,141.52 L658.71,142.48 L658.97,143.45 L659.23,144.41 L659.49,145.37 L659.76,146.33 L660.02,147.29 L660.29,148.25 L660.56,149.21 L660.84,150.17 L661.11,151.13 L661.39,152.09 L661.67,153.05 L661.95,154.01 L662.23,154.96 L662.52,155.92 L662.81,156.88 L663.10,157.84 L663.39,158.79 L663.69,159.75 L663.99,160.70 L664.29,161.66 L664.59,162.61 L664.90,163.56 L665.21,164.51 L665.52,165.46 L665.84,166.41 L666.16,167.36 L666.48,168.31 L666.81,169.26 L667.13,170.20 L667.47,171.15 L667.80,172.09 L668.14,173.03 L668.48,173.97 L668.83,174.91 L669.17,175.85 L669.53,176.78 L669.88,177.72 L670.24,178.65 L670.60,179.58 L670.97,180.51 L671.34,181.44 L671.72,182.37 L672.10,183.29 L672.48,184.22 L672.86,185.14 L673.25,186.06 L673.65,186.98 L674.05,187.89 L674.45,188.81 L674.86,189.72 L675.27,190.63 L675.69,191.54 L676.11,192.44 L676.53,193.35 L676.96,194.25 L677.40,195.15 L677.84,196.04 L678.28,196.94 L678.73,197.83 L679.18,198.72 L679.64,199.60 L680.10,200.49 L680.57,201.37 L681.05,202.25 L681.52,203.13 L682.01,204.00 L682.50,204.87 L682.99,205.74 L683.49,206.61 L684.00,207.47 L684.51,208.33 L685.02,209.18" fill="none" stroke="#00c000" stroke-width="1.15" stroke-linejoin="round"/>
<path d="M408.41,229.56 L408.44,228.52 L408.48,227.48 L408.51,226.45 L408.55,225.42 L408.59,224.40 L408.64,223.38 L408.69,222.36 L408.74,221.34 L408.79,220.33 L408.85,219.32 L408.90,218.31 L408.96,217.31 L409.02,216.31 L409.09,215.31 L409.15,214.31 L409.22,213.31 L409.29,212.32 L409.36,211.33 L409.43,210.34 L409.50,209.35 L409.58,208.36 L409.66,207.38 L409.73,206.40 L409.81,205.41 L409.89,204.43 L409.98,203.45 L410.06,202.47 L410.14,201.49 L410.23,200.51 L410.31,199.54 L410.40,198.56 L410.49,197.58 L410.57,196.60 L410.66,195.63 L410.75,194.65 L410.84,193.67 L410.93,192.69 L411.02,191.72 L411.11,190.74 L411.20,189.76 L411.29,188.78 L411.38,187.80 L411.47,186.82 L411.56,185.83 L411.65,184.85 L411.74,183.87 L411.82,182.88 L411.91,181.89 L412.00,180.90 L412.09,179.91 L412.17,178.92 L412.26,177.92 L412.34,176.92 L412.43,175.92 L412.51,174.92 L412.59,173.92 L412.67,172.91 L412.75,171.90 L412.83,170.89 L412.91,169.87 L412.98,168.85 L413.06,167.83 L413.13,166.80 L413.20,165.78 L413.27,164.74 L413.34,163.71 L413.40,162.67 L413.47,161.63 L413.53,160.58 L413.59,159.53 L413.65,158.48 L413.71,157.42 L413.78,156.37 L413.86,155.33 L413.97,154.30 L414.09,153.28 L414.24,152.28 L414.42,151.31 L414.64,150.36 L414.90,149.43 L415.20,148.54 L415.55,147.69 L415.96,146.88 L416.43,146.10 L416.96,145.38 L417.55,144.72 L418.20,144.20 L418.89,143.89 L419.59,143.86 L420.30,144.09 L420.97,144.59 L421.61,145.32 L422.23,146.22 L422.85,147.22 L423.47,148.28 L424.11,149.32 L424.78,150.29 L425.51,151.12 L426.30,151.76 L427.15,152.22 L428.04,152.50 L428.96,152.65 L429.91,152.68 L430.86,152.62 L431.81,152.50 L432.75,152.33 L433.67,152.11 L434.59,151.85 L435.49,151.54 L436.38,151.20 L437.26,150.81 L438.12,150.39 L438.98,149.93 L439.82,149.43 L440.65,148.90 L441.46,148.34 L442.27,147.75 L443.06,147.13 L443.83,146.49 L444.60,145.82 L445.35,145.13 L446.09,144.42 L446.82,143.69 L447.53,142.94 L448.23,142.18 L448.92,141.40 L449.60,140.61 L450.26,139.80 L450.90,138.99 L451.54,138.18 L452.16,137.35 L452.76,136.52 L453.36,135.69 L453.94,134.85 L454.51,134.01 L455.06,133.16 L455.60,132.31 L456.13,131.45 L456.65,130.59 L457.15,129.72 L457.65,128.85 L458.13,127.97 L458.60,127.09 L459.05,126.21 L459.50,125.32 L459.94,124.43 L460.36,123.53 L460.78,122.63 L461.18,121.72 L461.57,120.82 L461.95,119.91 L462.33,118.99 L462.69,118.07 L463.04,117.15 L463.38,116.22 L463.72,115.30 L464.04,114.36 L464.35,113.43 L464.66,112.49 L464.96,111.55 L465.24,110.61 L465.52,109.66 L465.80,108.71 L466.06,107.76 L466.31,106.80 L466.56,105.84 L466.80,104.89 L467.03,103.92 L467.26,102.96 L467.48,101.99 L467.69,101.02 L467.89,100.05 L468.09,99.08 L468.28,98.11 L468.46,97.13 L468.64,96.15 L468.81,95.17 L468.98,94.19 L469.14,93.21 L469.29,92.22 L469.44,91.24 L469.59,90.25 L469.73,89.26 L469.86,88.27 L469.99,87.28 L470.12,86.29 L470.24,85.30 L470.36,84.31 L470.47,83.31 L470.58,82.32 L470.68,81.32 L470.79,80.33 L470.88,79.33 L470.98,78.34 L471.07,77.34 L471.16,76.34 L471.25,75.35 L471.33,74.35 L471.41,73.35 L471.49,72.36 L471.57,71.36 L471.65,70.36 L471.72,69.37 L471.79,68.37 L471.87,67.38 L471.94,66.38 L472.01,65.39 L472.08,64.39 L472.16,63.40 L472.24,62.40 L472.32,61.41 L472.42,60.41 L472.52,59.41 L472.62,58.41 L472.74,57.40 L472.87,56.40 L473.01,55.39 L473.17,54.38 L473.34,53.36 L473.52,52.34 L473.72,51.32 L473.94,50.30 L474.18,49.27 L474.44,48.23 L474.72,47.19 L475.02,46.15 L475.35,45.10 L475.70,44.09 L476.06,43.16 L476.45,42.36 L476.85,41.75 L477.26,41.37 L477.69,41.29 L478.12,41.53 L478.56,42.03 L478.99,42.76 L479.40,43.64 L479.81,44.64 L480.19,45.69 L480.54,46.75 L480.86,47.79 L481.16,48.83 L481.43,49.86 L481.67,50.88 L481.89,51.89 L482.09,52.90 L482.27,53.89 L482.43,54.89 L482.58,55.87 L482.71,56.86 L482.82,57.84 L482.92,58.81 L483.01,59.79 L483.09,60.76 L483.17,61.73 L483.23,62.70 L483.30,63.67 L483.36,64.64 L483.41,65.62 L483.47,66.59 L483.52,67.57 L483.58,68.55 L483.64,69.54 L483.71,70.52 L483.78,71.51 L483.85,72.51 L483.93,73.50 L484.01,74.50 L484.09,75.50 L484.18,76.50 L484.28,77.51 L484.38,78.51 L484.48,79.52 L484.59,80.52 L484.71,81.53 L484.83,82.54 L484.96,83.54 L485.09,84.55 L485.23,85.56 L485.38,86.56 L485.54,87.57 L485.70,88.57 L485.87,89.57 L486.05,90.57 L486.23,91.57 L486.42,92.57 L486.63,93.56 L486.84,94.55 L487.05,95.54 L487.28,96.53 L487.52,97.51 L487.76,98.49 L488.02,99.47 L488.29,100.44 L488.56,101.40 L488.85,102.37 L489.15,103.32 L489.45,104.28 L489.77,105.22 L490.10,106.16 L490.44,107.10 L490.79,108.03 L491.16,108.95 L491.53,109.87 L491.92,110.78 L492.32,111.69 L492.74,112.58 L493.16,113.47 L493.60,114.35 L494.06,115.23 L494.52,116.09 L495.01,116.95 L495.50,117.80 L496.01,118.63 L496.53,119.46 L497.07,120.29 L497.62,121.10 L498.19,121.90 L498.77,122.69 L499.37,123.47 L499.99,124.24 L500.62,125.00 L501.26,125.75 L501.92,126.49 L502.60,127.21 L503.29,127.93 L503.99,128.64 L504.71,129.34 L505.44,130.02 L506.18,130.70 L506.93,131.37 L507.69,132.03 L508.46,132.68 L509.24,133.32 L510.03,133.95 L510.83,134.57 L511.64,135.18 L512.45,135.79 L513.27,136.39 L514.10,136.98 L514.93,137.56 L515.77,138.13 L516.61,138.70 L517.45,139.26 L518.30,139.81 L519.15,140.35 L520.01,140.89 L520.87,141.42 L521.73,141.94 L522.60,142.45 L523.47,142.95 L524.35,143.45 L525.23,143.94 L526.11,144.42 L527.00,144.90 L527.89,145.36 L528.78,145.82 L529.68,146.27 L530.58,146.71 L531.48,147.15 L532.39,147.57 L533.30,147.99 L534.21,148.40 L535.13,148.80 L536.05,149.20 L536.97,149.58 L537.89,149.96 L538.82,150.33 L539.75,150.69 L540.68,151.05 L541.62,151.39 L542.56,151.73 L543.50,152.06 L544.44,152.38 L545.39,152.69 L546.34,152.99 L547.29,153.29 L548.24,153.57 L549.19,153.85 L550.15,154.12 L551.11,154.38 L552.07,154.64 L553.03,154.88 L554.00,155.12 L554.97,155.34 L555.94,155.56 L556.91,155.77 L557.88,155.97 L558.85,156.17 L559.83,156.35 L560.80,156.53 L561.78,156.69 L562.76,156.85 L563.74,157.00 L564.73,157.14 L565.71,157.27 L566.70,157.40 L567.68,157.51 L568.67,157.62 L569.66,157.71 L570.65,157.80 L571.64,157.88 L572.63,157.95 L573.62,158.01 L574.61,158.06 L575.61,158.10 L576.60,158.14 L577.60,158.16 L578.59,158.18 L579.59,158.19 L580.59,158.19 L581.58,158.18 L582.58,158.17 L583.58,158.15 L584.58,158.11 L585.58,158.07 L586.58,158.03 L587.58,157.97 L588.58,157.91 L589.59,157.84 L590.59,157.76 L591.59,157.67 L592.59,157.58 L593.60,157.48 L594.60,157.37 L595.60,157.25 L596.61,157.13 L597.61,157.00 L598.61,156.86 L599.62,156.72 L600.62,156.57 L601.63,156.41 L602.63,156.25 L603.64,156.08 L604.64,155.90 L605.64,155.71 L606.65,155.52 L607.65,155.33 L608.65,155.12 L609.65,154.90 L610.64,154.67 L611.63,154.43 L612.60,154.16 L613.56,153.88 L614.51,153.58 L615.45,153.25 L616.36,152.90 L617.26,152.51 L618.14,152.10 L618.99,151.65 L619.82,151.17 L620.62,150.65 L621.40,150.10 L622.14,149.50 L622.86,148.87 L623.56,148.21 L624.23,147.52 L624.88,146.80 L625.50,146.05 L626.10,145.27 L626.68,144.47 L627.23,143.64 L627.77,142.79 L628.28,141.92 L628.78,141.03 L629.25,140.13 L629.71,139.21 L630.15,138.27 L630.57,137.32 L630.98,136.36 L631.37,135.39 L631.75,134.42 L632.11,133.43 L632.46,132.45 L632.80,131.46 L633.12,130.47 L633.44,129.47 L633.74,128.48 L634.03,127.50 L634.31,126.52 L634.59,125.54 L634.85,124.57 L635.11,123.62 L635.36,122.67 L635.61,121.74 L635.85,120.82 L636.08,119.91 L636.32,119.01 L636.56,118.11 L636.81,117.22 L637.07,116.32 L637.34,115.42 L637.63,114.52 L637.93,113.60 L638.26,112.67 L638.61,111.73 L638.99,110.76 L639.40,109.77 L639.84,108.76 L640.32,107.73 L640.84,106.72 L641.40,105.77 L642.01,104.90 L642.68,104.16 L643.39,103.58 L644.17,103.19 L644.98,103.02 L645.79,103.06 L646.56,103.31 L647.25,103.78 L647.86,104.43 L648.39,105.23 L648.86,106.15 L649.27,107.15 L649.63,108.19 L649.95,109.24 L650.23,110.28 L650.48,111.31 L650.70,112.33 L650.90,113.34 L651.08,114.34 L651.24,115.33 L651.39,116.32 L651.52,117.30 L651.66,118.27 L651.79,119.24 L651.92,120.21 L652.05,121.17 L652.19,122.14 L652.35,123.11 L652.51,124.07 L652.69,125.04 L652.87,126.01 L653.07,126.97 L653.27,127.94 L653.48,128.91 L653.70,129.88 L653.93,130.85 L654.17,131.81 L654.42,132.78 L654.67,133.75 L654.92,134.72 L655.19,135.69 L655.46,136.65 L655.73,137.62 L656.01,138.59 L656.29,139.55 L656.58,140.52 L656.87,141.49 L657.16,142.45 L657.46,143.42 L657.76,144.38 L658.06,145.35 L658.36,146.31 L658.66,147.27 L658.97,148.23 L659.28,149.19 L659.59,150.15 L659.90,151.11 L660.22,152.07 L660.54,153.02 L660.86,153.98 L661.18,154.93 L661.51,155.88 L661.85,156.83 L662.19,157.77 L662.53,158.71 L662.87,159.66 L663.23,160.59 L663.58,161.53 L663.94,162.46 L664.31,163.39 L664.68,164.32 L665.06,165.24 L665.45,166.16 L665.84,167.08 L666.23,167.99 L666.64,168.90 L667.05,169.81 L667.47,170.71 L667.89,171.61 L668.32,172.50 L668.76,173.39 L669.21,174.27 L669.67,175.15 L670.13,176.03 L670.60,176.90 L671.08,177.77 L671.58,178.63 L672.07,179.48 L672.58,180.33 L673.10,181.18 L673.63,182.02 L674.17,182.85 L674.72,183.68 L675.28,184.50 L675.85,185.31 L676.43,186.12 L677.02,186.93 L677.62,187.72 L678.23,188.51 L678.86,189.30 L679.50,190.07 L680.15,190.84 L680.81,191.60 L681.48,192.36 L682.17,193.11 L682.87,193.85 L683.58,194.58 L684.31,195.30 L685.05,196.02" fill="none" stroke="#ff0000" stroke-width="1.15" stroke-linejoin="round"/>
<path d="M414.29,229.43 L414.49,228.76 L414.63,227.96 L414.73,227.03 L414.79,226.02 L414.84,224.93 L414.88,223.79 L414.92,222.61 L414.99,221.43 L415.08,220.26 L415.22,219.12 L415.42,218.03 L415.68,217.02 L416.02,216.10 L416.46,215.30 L417.00,214.64 L417.65,214.13 L418.39,213.78 L419.20,213.60 L420.04,213.59 L420.90,213.76 L421.74,214.10 L422.55,214.62 L423.32,215.29 L424.07,216.03 L424.81,216.79 L425.56,217.49 L426.33,218.08 L427.14,218.48 L428.00,218.65 L428.90,218.58 L429.83,218.30 L430.78,217.86 L431.72,217.27 L432.65,216.58 L433.55,215.82 L434.41,215.01 L435.21,214.19 L435.95,213.36 L436.64,212.52 L437.29,211.68 L437.88,210.83 L438.44,209.97 L438.97,209.11 L439.46,208.25 L439.93,207.38 L440.37,206.51 L440.80,205.63 L441.21,204.75 L441.61,203.87 L442.01,202.98 L442.41,202.09 L442.80,201.20 L443.20,200.31 L443.59,199.42 L443.98,198.52 L444.38,197.63 L444.77,196.73 L445.16,195.82 L445.55,194.92 L445.94,194.02 L446.33,193.11 L446.71,192.20 L447.10,191.29 L447.48,190.38 L447.86,189.46 L448.24,188.55 L448.62,187.63 L448.99,186.71 L449.36,185.79 L449.73,184.86 L450.10,183.94 L450.47,183.01 L450.83,182.08 L451.20,181.15 L451.55,180.22 L451.91,179.29 L452.26,178.35 L452.61,177.42 L452.96,176.48 L453.31,175.54 L453.65,174.60 L453.99,173.65 L454.32,172.71 L454.65,171.76 L454.98,170.82 L455.30,169.87 L455.62,168.92 L455.94,167.96 L456.25,167.01 L456.56,166.06 L456.87,165.10 L457.17,164.14 L457.46,163.18 L457.75,162.22 L458.04,161.26 L458.32,160.30 L458.60,159.33 L458.88,158.37 L459.14,157.40 L459.41,156.43 L459.67,155.46 L459.92,154.49 L460.17,153.52 L460.41,152.54 L460.65,151.57 L460.88,150.59 L461.11,149.62 L461.33,148.64 L461.55,147.66 L461.76,146.68 L461.96,145.70 L462.16,144.71 L462.35,143.73 L462.54,142.74 L462.72,141.76 L462.90,140.77 L463.07,139.79 L463.24,138.80 L463.40,137.81 L463.56,136.82 L463.71,135.83 L463.86,134.84 L464.01,133.85 L464.16,132.86 L464.29,131.87 L464.43,130.87 L464.57,129.88 L464.70,128.89 L464.82,127.90 L464.95,126.90 L465.07,125.91 L465.19,124.92 L465.31,123.93 L465.43,122.93 L465.54,121.94 L465.66,120.95 L465.77,119.96 L465.88,118.97 L465.99,117.98 L466.10,116.99 L466.20,116.00 L466.31,115.01 L466.42,114.02 L466.52,113.03 L466.63,112.04 L466.74,111.05 L466.84,110.07 L466.95,109.08 L467.06,108.10 L467.16,107.11 L467.27,106.13 L467.38,105.15 L467.48,104.16 L467.59,103.18 L467.70,102.20 L467.80,101.21 L467.91,100.23 L468.02,99.25 L468.13,98.27 L468.23,97.28 L468.34,96.30 L468.45,95.32 L468.56,94.34 L468.67,93.35 L468.78,92.37 L468.89,91.39 L469.00,90.40 L469.11,89.42 L469.22,88.44 L469.33,87.45 L469.44,86.47 L469.55,85.48 L469.66,84.49 L469.78,83.51 L469.89,82.52 L470.00,81.53 L470.12,80.54 L470.23,79.55 L470.35,78.56 L470.46,77.57 L470.58,76.57 L470.70,75.58 L470.82,74.58 L470.93,73.59 L471.05,72.59 L471.17,71.59 L471.29,70.59 L471.41,69.59 L471.54,68.59 L471.66,67.58 L471.78,66.58 L471.91,65.57 L472.03,64.56 L472.16,63.55 L472.28,62.54 L472.41,61.52 L472.54,60.51 L472.67,59.49 L472.80,58.47 L472.93,57.45 L473.06,56.43 L473.19,55.40 L473.33,54.38 L473.46,53.35 L473.60,52.32 L473.73,51.28 L473.87,50.25 L474.03,49.22 L474.20,48.21 L474.39,47.23 L474.63,46.27 L474.91,45.36 L475.24,44.49 L475.64,43.69 L476.11,42.95 L476.66,42.29 L477.27,41.75 L477.87,41.45 L478.39,41.49 L478.84,41.85 L479.22,42.46 L479.54,43.27 L479.83,44.21 L480.10,45.23 L480.35,46.28 L480.59,47.32 L480.82,48.36 L481.05,49.40 L481.27,50.44 L481.48,51.47 L481.69,52.50 L481.89,53.53 L482.08,54.55 L482.27,55.57 L482.45,56.60 L482.63,57.61 L482.80,58.63 L482.96,59.64 L483.12,60.66 L483.27,61.66 L483.42,62.67 L483.56,63.68 L483.70,64.68 L483.84,65.69 L483.97,66.69 L484.09,67.69 L484.22,68.68 L484.34,69.68 L484.45,70.68 L484.56,71.67 L484.67,72.66 L484.78,73.65 L484.88,74.64 L484.99,75.63 L485.08,76.62 L485.18,77.61 L485.28,78.60 L485.37,79.58 L485.46,80.57 L485.55,81.55 L485.64,82.54 L485.73,83.52 L485.82,84.50 L485.90,85.48 L485.99,86.47 L486.08,87.45 L486.16,88.43 L486.25,89.41 L486.34,90.39 L486.42,91.38 L486.51,92.36 L486.60,93.34 L486.69,94.32 L486.78,95.31 L486.88,96.29 L486.97,97.27 L487.07,98.26 L487.16,99.24 L487.27,100.23 L487.37,101.21 L487.47,102.20 L487.58,103.18 L487.69,104.17 L487.80,105.16 L487.91,106.15 L488.03,107.13 L488.15,108.12 L488.27,109.11 L488.39,110.10 L488.51,111.09 L488.64,112.08 L488.77,113.07 L488.90,114.06 L489.04,115.05 L489.17,116.04 L489.31,117.02 L489.45,118.01 L489.60,119.00 L489.74,119.99 L489.89,120.98 L490.05,121.97 L490.20,122.96 L490.36,123.95 L490.52,124.94 L490.68,125.93 L490.85,126.91 L491.02,127.90 L491.19,128.89 L491.36,129.88 L491.54,130.86 L491.72,131.85 L491.91,132.83 L492.09,133.82 L492.28,134.81 L492.47,135.79 L492.67,136.77 L492.87,137.76 L493.07,138.74 L493.28,139.72 L493.48,140.70 L493.69,141.68 L493.91,142.66 L494.13,143.64 L494.35,144.62 L494.57,145.60 L494.80,146.57 L495.03,147.55 L495.27,148.52 L495.51,149.50 L495.75,150.47 L495.99,151.44 L496.24,152.41 L496.49,153.38 L496.75,154.35 L497.01,155.32 L497.27,156.28 L497.54,157.25 L497.81,158.21 L498.08,159.17 L498.36,160.13 L498.64,161.09 L498.93,162.05 L499.22,163.01 L499.51,163.97 L499.81,164.92 L500.11,165.87 L500.42,166.82 L500.73,167.77 L501.04,168.72 L501.37,169.66 L501.69,170.61 L502.02,171.55 L502.36,172.48 L502.70,173.42 L503.05,174.35 L503.41,175.28 L503.77,176.20 L504.14,177.13 L504.52,178.05 L504.90,178.96 L505.29,179.88 L505.69,180.78 L506.10,181.69 L506.51,182.59 L506.93,183.49 L507.36,184.38 L507.80,185.27 L508.25,186.15 L508.70,187.03 L509.17,187.91 L509.64,188.78 L510.13,189.65 L510.62,190.51 L511.12,191.36 L511.64,192.21 L512.16,193.06 L512.69,193.90 L513.24,194.73 L513.79,195.56 L514.36,196.38 L514.94,197.20 L515.52,198.01 L516.12,198.81 L516.73,199.61 L517.34,200.40 L517.97,201.18 L518.61,201.96 L519.25,202.73 L519.91,203.49 L520.57,204.25 L521.25,204.99 L521.93,205.73 L522.62,206.47 L523.32,207.19 L524.03,207.91 L524.75,208.62 L525.48,209.32 L526.21,210.01 L526.96,210.69 L527.71,211.36 L528.47,212.03 L529.24,212.68 L530.01,213.33 L530.80,213.97 L531.59,214.59 L532.39,215.21 L533.19,215.82 L534.01,216.42 L534.83,217.00 L535.66,217.58 L536.49,218.15 L537.34,218.70 L538.18,219.25 L539.04,219.78 L539.90,220.30 L540.77,220.80 L541.64,221.29 L542.53,221.76 L543.41,222.22 L544.31,222.66 L545.21,223.08 L546.11,223.49 L547.02,223.87 L547.94,224.24 L548.86,224.58 L549.79,224.90 L550.72,225.20 L551.66,225.48 L552.60,225.73 L553.55,225.96 L554.50,226.16 L555.46,226.33 L556.42,226.49 L557.39,226.61 L558.36,226.72 L559.33,226.79 L560.30,226.85 L561.28,226.88 L562.26,226.89 L563.24,226.87 L564.23,226.83 L565.21,226.78 L566.19,226.69 L567.18,226.59 L568.16,226.47 L569.15,226.32 L570.13,226.16 L571.11,225.97 L572.09,225.77 L573.07,225.54 L574.05,225.30 L575.02,225.03 L575.99,224.75 L576.96,224.45 L577.92,224.14 L578.88,223.80 L579.83,223.45 L580.78,223.08 L581.73,222.70 L582.67,222.29 L583.60,221.88 L584.52,221.44 L585.44,220.99 L586.36,220.53 L587.26,220.05 L588.16,219.56 L589.05,219.05 L589.93,218.54 L590.80,218.00 L591.66,217.46 L592.52,216.90 L593.36,216.33 L594.19,215.74 L595.01,215.15 L595.82,214.54 L596.62,213.93 L597.41,213.30 L598.18,212.66 L598.95,212.02 L599.70,211.36 L600.44,210.69 L601.17,210.01 L601.89,209.33 L602.60,208.63 L603.29,207.92 L603.98,207.21 L604.65,206.48 L605.32,205.75 L605.97,205.01 L606.61,204.26 L607.24,203.50 L607.87,202.74 L608.48,201.96 L609.08,201.18 L609.67,200.39 L610.26,199.60 L610.83,198.79 L611.39,197.98 L611.95,197.17 L612.49,196.34 L613.03,195.51 L613.56,194.67 L614.08,193.83 L614.59,192.98 L615.09,192.12 L615.58,191.26 L616.07,190.40 L616.54,189.52 L617.01,188.65 L617.47,187.76 L617.92,186.88 L618.37,185.98 L618.80,185.09 L619.23,184.19 L619.66,183.28 L620.07,182.37 L620.48,181.46 L620.88,180.54 L621.27,179.62 L621.66,178.70 L622.04,177.77 L622.41,176.84 L622.78,175.91 L623.14,174.97 L623.49,174.04 L623.84,173.10 L624.19,172.15 L624.52,171.21 L624.85,170.26 L625.18,169.31 L625.50,168.36 L625.81,167.41 L626.12,166.46 L626.43,165.50 L626.73,164.54 L627.02,163.59 L627.31,162.63 L627.60,161.66 L627.88,160.70 L628.15,159.74 L628.42,158.77 L628.69,157.81 L628.95,156.84 L629.21,155.87 L629.47,154.90 L629.72,153.93 L629.97,152.96 L630.21,151.99 L630.46,151.01 L630.69,150.04 L630.93,149.07 L631.16,148.09 L631.39,147.12 L631.62,146.14 L631.84,145.16 L632.06,144.19 L632.28,143.21 L632.50,142.23 L632.71,141.25 L632.93,140.28 L633.14,139.30 L633.35,138.32 L633.55,137.34 L633.76,136.36 L633.96,135.38 L634.17,134.41 L634.37,133.43 L634.57,132.45 L634.77,131.47 L634.97,130.50 L635.16,129.52 L635.36,128.55 L635.56,127.57 L635.75,126.60 L635.95,125.62 L636.15,124.65 L636.34,123.68 L636.54,122.71 L636.73,121.73 L636.93,120.76 L637.13,119.80 L637.32,118.83 L637.52,117.86 L637.71,116.89 L637.90,115.92 L638.10,114.94 L638.28,113.97 L638.47,112.99 L638.66,112.01 L638.84,111.03 L639.02,110.04 L639.19,109.06 L639.36,108.06 L639.53,107.06 L639.69,106.06 L639.85,105.05 L640.00,104.04 L640.16,103.03 L640.33,102.02 L640.52,101.01 L640.74,100.02 L640.99,99.04 L641.29,98.08 L641.65,97.14 L642.07,96.23 L642.56,95.35 L643.12,94.51 L643.77,93.76 L644.46,93.21 L645.19,92.96 L645.92,93.09 L646.63,93.54 L647.29,94.23 L647.84,95.06 L648.30,95.98 L648.66,96.96 L648.97,97.98 L649.23,99.02 L649.47,100.07 L649.70,101.10 L649.94,102.11 L650.17,103.12 L650.39,104.11 L650.62,105.09 L650.84,106.07 L651.05,107.04 L651.27,108.01 L651.48,108.97 L651.69,109.93 L651.89,110.90 L652.10,111.86 L652.30,112.83 L652.50,113.80 L652.69,114.77 L652.88,115.74 L653.07,116.71 L653.26,117.68 L653.45,118.66 L653.63,119.63 L653.81,120.61 L653.99,121.58 L654.17,122.56 L654.35,123.54 L654.52,124.52 L654.69,125.50 L654.86,126.48 L655.03,127.46 L655.20,128.44 L655.37,129.43 L655.53,130.41 L655.70,131.39 L655.86,132.38 L656.03,133.37 L656.19,134.35 L656.35,135.34 L656.51,136.33 L656.67,137.31 L656.83,138.30 L656.99,139.29 L657.14,140.28 L657.30,141.27 L657.46,142.26 L657.62,143.24 L657.78,144.23 L657.93,145.22 L658.09,146.21 L658.25,147.20 L658.41,148.19 L658.57,149.18 L658.73,150.17 L658.89,151.16 L659.05,152.15 L659.21,153.14 L659.37,154.13 L659.54,155.12 L659.70,156.11 L659.87,157.10 L660.03,158.09 L660.20,159.08 L660.37,160.07 L660.54,161.06 L660.71,162.04 L660.89,163.03 L661.07,164.02 L661.24,165.00 L661.42,165.99 L661.60,166.98 L661.79,167.96 L661.97,168.94 L662.16,169.93 L662.35,170.91 L662.54,171.89 L662.74,172.87 L662.94,173.86 L663.14,174.83 L663.34,175.81 L663.55,176.79 L663.76,177.77 L663.97,178.74 L664.18,179.72 L664.40,180.69 L664.62,181.67 L664.85,182.64 L665.07,183.61 L665.31,184.58 L665.54,185.55 L665.78,186.52 L666.02,187.48 L666.27,188.45 L666.52,189.41 L666.78,190.37 L667.03,191.34 L667.30,192.29 L667.56,193.25 L667.84,194.21 L668.11,195.17 L668.39,196.12 L668.68,197.07 L668.97,198.02 L669.26,198.97 L669.56,199.92 L669.87,200.86 L670.18,201.81 L670.49,202.75 L670.81,203.69 L671.14,204.63 L671.47,205.57 L671.80,206.50 L672.15,207.43 L672.49,208.36 L672.85,209.29 L673.21,210.22 L673.57,211.14 L673.94,212.07 L674.32,212.99 L674.70,213.91 L675.09,214.82 L675.49,215.74 L675.89,216.65 L676.30,217.56 L676.71,218.47 L677.14,219.37 L677.56,220.27 L678.00,221.17 L678.44,222.07 L678.89,222.97 L679.35,223.86 L679.81,224.75 L680.29,225.64 L680.76,226.52 L681.25,227.41 L681.74,228.29 L682.25,229.16 L682.75,230.04 L683.27,230.91" fill="none" stroke="#cc00ff" stroke-width="1.15" stroke-linejoin="round" stroke-dasharray="3.5,1.8"/>
</g>
<rect x="39.6" y="5.5" width="292.9" height="223.1" fill="none" stroke="#4a4a4a" stroke-width="1.2"/>
<line x1="54.5" y1="228.6" x2="54.5" y2="226.1" stroke="#4a4a4a"/>
<line x1="54.5" y1="5.5" x2="54.5" y2="8.0" stroke="#4a4a4a"/>
<line x1="107.5" y1="228.6" x2="107.5" y2="226.1" stroke="#4a4a4a"/>
<line x1="107.5" y1="5.5" x2="107.5" y2="8.0" stroke="#4a4a4a"/>
<line x1="160.5" y1="228.6" x2="160.5" y2="226.1" stroke="#4a4a4a"/>
<line x1="160.5" y1="5.5" x2="160.5" y2="8.0" stroke="#4a4a4a"/>
<line x1="212.5" y1="228.6" x2="212.5" y2="226.1" stroke="#4a4a4a"/>
<line x1="212.5" y1="5.5" x2="212.5" y2="8.0" stroke="#4a4a4a"/>
<line x1="265.5" y1="228.6" x2="265.5" y2="226.1" stroke="#4a4a4a"/>
<line x1="265.5" y1="5.5" x2="265.5" y2="8.0" stroke="#4a4a4a"/>
<line x1="318.5" y1="228.6" x2="318.5" y2="226.1" stroke="#4a4a4a"/>
<line x1="318.5" y1="5.5" x2="318.5" y2="8.0" stroke="#4a4a4a"/>
<line x1="39.6" y1="219.12" x2="41.6" y2="219.12" stroke="#4a4a4a"/>
<line x1="332.5" y1="219.12" x2="330.5" y2="219.12" stroke="#4a4a4a"/>
<line x1="39.6" y1="205.56" x2="41.6" y2="205.56" stroke="#4a4a4a"/>
<line x1="332.5" y1="205.56" x2="330.5" y2="205.56" stroke="#4a4a4a"/>
<line x1="39.6" y1="195.94" x2="41.6" y2="195.94" stroke="#4a4a4a"/>
<line x1="332.5" y1="195.94" x2="330.5" y2="195.94" stroke="#4a4a4a"/>
<line x1="39.6" y1="188.48" x2="41.6" y2="188.48" stroke="#4a4a4a"/>
<line x1="332.5" y1="188.48" x2="330.5" y2="188.48" stroke="#4a4a4a"/>
<line x1="39.6" y1="182.38" x2="41.6" y2="182.38" stroke="#4a4a4a"/>
<line x1="332.5" y1="182.38" x2="330.5" y2="182.38" stroke="#4a4a4a"/>
<line x1="39.6" y1="177.23" x2="41.6" y2="177.23" stroke="#4a4a4a"/>
<line x1="332.5" y1="177.23" x2="330.5" y2="177.23" stroke="#4a4a4a"/>
<line x1="39.6" y1="172.76" x2="41.6" y2="172.76" stroke="#4a4a4a"/>
<line x1="332.5" y1="172.76" x2="330.5" y2="172.76" stroke="#4a4a4a"/>
<line x1="39.6" y1="168.82" x2="41.6" y2="168.82" stroke="#4a4a4a"/>
<line x1="332.5" y1="168.82" x2="330.5" y2="168.82" stroke="#4a4a4a"/>
<line x1="39.6" y1="165.30" x2="42.6" y2="165.30" stroke="#4a4a4a"/>
<line x1="332.5" y1="165.30" x2="329.5" y2="165.30" stroke="#4a4a4a"/>
<line x1="39.6" y1="142.12" x2="41.6" y2="142.12" stroke="#4a4a4a"/>
<line x1="332.5" y1="142.12" x2="330.5" y2="142.12" stroke="#4a4a4a"/>
<line x1="39.6" y1="128.56" x2="41.6" y2="128.56" stroke="#4a4a4a"/>
<line x1="332.5" y1="128.56" x2="330.5" y2="128.56" stroke="#4a4a4a"/>
<line x1="39.6" y1="118.94" x2="41.6" y2="118.94" stroke="#4a4a4a"/>
<line x1="332.5" y1="118.94" x2="330.5" y2="118.94" stroke="#4a4a4a"/>
<line x1="39.6" y1="111.48" x2="41.6" y2="111.48" stroke="#4a4a4a"/>
<line x1="332.5" y1="111.48" x2="330.5" y2="111.48" stroke="#4a4a4a"/>
<line x1="39.6" y1="105.38" x2="41.6" y2="105.38" stroke="#4a4a4a"/>
<line x1="332.5" y1="105.38" x2="330.5" y2="105.38" stroke="#4a4a4a"/>
<line x1="39.6" y1="100.23" x2="41.6" y2="100.23" stroke="#4a4a4a"/>
<line x1="332.5" y1="100.23" x2="330.5" y2="100.23" stroke="#4a4a4a"/>
<line x1="39.6" y1="95.76" x2="41.6" y2="95.76" stroke="#4a4a4a"/>
<line x1="332.5" y1="95.76" x2="330.5" y2="95.76" stroke="#4a4a4a"/>
<line x1="39.6" y1="91.82" x2="41.6" y2="91.82" stroke="#4a4a4a"/>
<line x1="332.5" y1="91.82" x2="330.5" y2="91.82" stroke="#4a4a4a"/>
<line x1="39.6" y1="88.30" x2="42.6" y2="88.30" stroke="#4a4a4a"/>
<line x1="332.5" y1="88.30" x2="329.5" y2="88.30" stroke="#4a4a4a"/>
<line x1="39.6" y1="65.12" x2="41.6" y2="65.12" stroke="#4a4a4a"/>
<line x1="332.5" y1="65.12" x2="330.5" y2="65.12" stroke="#4a4a4a"/>
<line x1="39.6" y1="51.56" x2="41.6" y2="51.56" stroke="#4a4a4a"/>
<line x1="332.5" y1="51.56" x2="330.5" y2="51.56" stroke="#4a4a4a"/>
<line x1="39.6" y1="41.94" x2="41.6" y2="41.94" stroke="#4a4a4a"/>
<line x1="332.5" y1="41.94" x2="330.5" y2="41.94" stroke="#4a4a4a"/>
<line x1="39.6" y1="34.48" x2="41.6" y2="34.48" stroke="#4a4a4a"/>
<line x1="332.5" y1="34.48" x2="330.5" y2="34.48" stroke="#4a4a4a"/>
<line x1="39.6" y1="28.38" x2="41.6" y2="28.38" stroke="#4a4a4a"/>
<line x1="332.5" y1="28.38" x2="330.5" y2="28.38" stroke="#4a4a4a"/>
<line x1="39.6" y1="23.23" x2="41.6" y2="23.23" stroke="#4a4a4a"/>
<line x1="332.5" y1="23.23" x2="330.5" y2="23.23" stroke="#4a4a4a"/>
<line x1="39.6" y1="18.76" x2="41.6" y2="18.76" stroke="#4a4a4a"/>
<line x1="332.5" y1="18.76" x2="330.5" y2="18.76" stroke="#4a4a4a"/>
<line x1="39.6" y1="14.82" x2="41.6" y2="14.82" stroke="#4a4a4a"/>
<line x1="332.5" y1="14.82" x2="330.5" y2="14.82" stroke="#4a4a4a"/>
<line x1="39.6" y1="11.30" x2="42.6" y2="11.30" stroke="#4a4a4a"/>
<line x1="332.5" y1="11.30" x2="329.5" y2="11.30" stroke="#4a4a4a"/>
<text x="55.0" y="242.2" text-anchor="middle" class="tk">1.9</text>
<text x="107.8" y="242.2" text-anchor="middle" class="tk">2.0</text>
<text x="160.6" y="242.2" text-anchor="middle" class="tk">2.1</text>
<text x="213.5" y="242.2" text-anchor="middle" class="tk">2.2</text>
<text x="266.3" y="242.2" text-anchor="middle" class="tk">2.3</text>
<text x="319.1" y="242.2" text-anchor="middle" class="tk">2.4</text>
<text x="14.8" y="15.6" class="tk">10</text>
<text x="34.3" y="4.8" text-anchor="end" class="sup">0</text>
<text x="14.8" y="91.8" class="tk">10</text>
<text x="34.3" y="81.8" text-anchor="end" class="sup">−1</text>
<text x="14.8" y="171.6" class="tk">10</text>
<text x="35.5" y="161.1" text-anchor="end" class="sup">−2</text>
<rect x="391.6" y="6.4" width="292.79999999999995" height="222.7" fill="none" stroke="#4a4a4a" stroke-width="1.2"/>
<line x1="406.5" y1="229.1" x2="406.5" y2="226.6" stroke="#4a4a4a"/>
<line x1="406.5" y1="6.4" x2="406.5" y2="8.9" stroke="#4a4a4a"/>
<line x1="459.5" y1="229.1" x2="459.5" y2="226.6" stroke="#4a4a4a"/>
<line x1="459.5" y1="6.4" x2="459.5" y2="8.9" stroke="#4a4a4a"/>
<line x1="512.5" y1="229.1" x2="512.5" y2="226.6" stroke="#4a4a4a"/>
<line x1="512.5" y1="6.4" x2="512.5" y2="8.9" stroke="#4a4a4a"/>
<line x1="565.5" y1="229.1" x2="565.5" y2="226.6" stroke="#4a4a4a"/>
<line x1="565.5" y1="6.4" x2="565.5" y2="8.9" stroke="#4a4a4a"/>
<line x1="617.5" y1="229.1" x2="617.5" y2="226.6" stroke="#4a4a4a"/>
<line x1="617.5" y1="6.4" x2="617.5" y2="8.9" stroke="#4a4a4a"/>
<line x1="670.5" y1="229.1" x2="670.5" y2="226.6" stroke="#4a4a4a"/>
<line x1="670.5" y1="6.4" x2="670.5" y2="8.9" stroke="#4a4a4a"/>
<line x1="391.6" y1="220.12" x2="393.6" y2="220.12" stroke="#4a4a4a"/>
<line x1="684.4" y1="220.12" x2="682.4" y2="220.12" stroke="#4a4a4a"/>
<line x1="391.6" y1="206.56" x2="393.6" y2="206.56" stroke="#4a4a4a"/>
<line x1="684.4" y1="206.56" x2="682.4" y2="206.56" stroke="#4a4a4a"/>
<line x1="391.6" y1="196.94" x2="393.6" y2="196.94" stroke="#4a4a4a"/>
<line x1="684.4" y1="196.94" x2="682.4" y2="196.94" stroke="#4a4a4a"/>
<line x1="391.6" y1="189.48" x2="393.6" y2="189.48" stroke="#4a4a4a"/>
<line x1="684.4" y1="189.48" x2="682.4" y2="189.48" stroke="#4a4a4a"/>
<line x1="391.6" y1="183.38" x2="393.6" y2="183.38" stroke="#4a4a4a"/>
<line x1="684.4" y1="183.38" x2="682.4" y2="183.38" stroke="#4a4a4a"/>
<line x1="391.6" y1="178.23" x2="393.6" y2="178.23" stroke="#4a4a4a"/>
<line x1="684.4" y1="178.23" x2="682.4" y2="178.23" stroke="#4a4a4a"/>
<line x1="391.6" y1="173.76" x2="393.6" y2="173.76" stroke="#4a4a4a"/>
<line x1="684.4" y1="173.76" x2="682.4" y2="173.76" stroke="#4a4a4a"/>
<line x1="391.6" y1="169.82" x2="393.6" y2="169.82" stroke="#4a4a4a"/>
<line x1="684.4" y1="169.82" x2="682.4" y2="169.82" stroke="#4a4a4a"/>
<line x1="391.6" y1="166.30" x2="394.6" y2="166.30" stroke="#4a4a4a"/>
<line x1="684.4" y1="166.30" x2="681.4" y2="166.30" stroke="#4a4a4a"/>
<line x1="391.6" y1="143.12" x2="393.6" y2="143.12" stroke="#4a4a4a"/>
<line x1="684.4" y1="143.12" x2="682.4" y2="143.12" stroke="#4a4a4a"/>
<line x1="391.6" y1="129.56" x2="393.6" y2="129.56" stroke="#4a4a4a"/>
<line x1="684.4" y1="129.56" x2="682.4" y2="129.56" stroke="#4a4a4a"/>
<line x1="391.6" y1="119.94" x2="393.6" y2="119.94" stroke="#4a4a4a"/>
<line x1="684.4" y1="119.94" x2="682.4" y2="119.94" stroke="#4a4a4a"/>
<line x1="391.6" y1="112.48" x2="393.6" y2="112.48" stroke="#4a4a4a"/>
<line x1="684.4" y1="112.48" x2="682.4" y2="112.48" stroke="#4a4a4a"/>
<line x1="391.6" y1="106.38" x2="393.6" y2="106.38" stroke="#4a4a4a"/>
<line x1="684.4" y1="106.38" x2="682.4" y2="106.38" stroke="#4a4a4a"/>
<line x1="391.6" y1="101.23" x2="393.6" y2="101.23" stroke="#4a4a4a"/>
<line x1="684.4" y1="101.23" x2="682.4" y2="101.23" stroke="#4a4a4a"/>
<line x1="391.6" y1="96.76" x2="393.6" y2="96.76" stroke="#4a4a4a"/>
<line x1="684.4" y1="96.76" x2="682.4" y2="96.76" stroke="#4a4a4a"/>
<line x1="391.6" y1="92.82" x2="393.6" y2="92.82" stroke="#4a4a4a"/>
<line x1="684.4" y1="92.82" x2="682.4" y2="92.82" stroke="#4a4a4a"/>
<line x1="391.6" y1="89.30" x2="394.6" y2="89.30" stroke="#4a4a4a"/>
<line x1="684.4" y1="89.30" x2="681.4" y2="89.30" stroke="#4a4a4a"/>
<line x1="391.6" y1="66.12" x2="393.6" y2="66.12" stroke="#4a4a4a"/>
<line x1="684.4" y1="66.12" x2="682.4" y2="66.12" stroke="#4a4a4a"/>
<line x1="391.6" y1="52.56" x2="393.6" y2="52.56" stroke="#4a4a4a"/>
<line x1="684.4" y1="52.56" x2="682.4" y2="52.56" stroke="#4a4a4a"/>
<line x1="391.6" y1="42.94" x2="393.6" y2="42.94" stroke="#4a4a4a"/>
<line x1="684.4" y1="42.94" x2="682.4" y2="42.94" stroke="#4a4a4a"/>
<line x1="391.6" y1="35.48" x2="393.6" y2="35.48" stroke="#4a4a4a"/>
<line x1="684.4" y1="35.48" x2="682.4" y2="35.48" stroke="#4a4a4a"/>
<line x1="391.6" y1="29.38" x2="393.6" y2="29.38" stroke="#4a4a4a"/>
<line x1="684.4" y1="29.38" x2="682.4" y2="29.38" stroke="#4a4a4a"/>
<line x1="391.6" y1="24.23" x2="393.6" y2="24.23" stroke="#4a4a4a"/>
<line x1="684.4" y1="24.23" x2="682.4" y2="24.23" stroke="#4a4a4a"/>
<line x1="391.6" y1="19.76" x2="393.6" y2="19.76" stroke="#4a4a4a"/>
<line x1="684.4" y1="19.76" x2="682.4" y2="19.76" stroke="#4a4a4a"/>
<line x1="391.6" y1="15.82" x2="393.6" y2="15.82" stroke="#4a4a4a"/>
<line x1="684.4" y1="15.82" x2="682.4" y2="15.82" stroke="#4a4a4a"/>
<line x1="391.6" y1="12.30" x2="394.6" y2="12.30" stroke="#4a4a4a"/>
<line x1="684.4" y1="12.30" x2="681.4" y2="12.30" stroke="#4a4a4a"/>
<text x="407.4" y="242.7" text-anchor="middle" class="tk">1.9</text>
<text x="460.1" y="242.7" text-anchor="middle" class="tk">2.0</text>
<text x="512.8" y="242.7" text-anchor="middle" class="tk">2.1</text>
<text x="565.5" y="242.7" text-anchor="middle" class="tk">2.2</text>
<text x="618.2" y="242.7" text-anchor="middle" class="tk">2.3</text>
<text x="670.9" y="242.7" text-anchor="middle" class="tk">2.4</text>
<text x="366.9" y="15.6" class="tk">10</text>
<text x="386.6" y="4.8" text-anchor="end" class="sup">0</text>
<text x="366.9" y="93.7" class="tk">10</text>
<text x="387.4" y="83.2" text-anchor="end" class="sup">−1</text>
<text x="366.9" y="172.6" class="tk">10</text>
<text x="388.0" y="162.1" text-anchor="end" class="sup">−2</text>
<text transform="translate(9.9,117) rotate(-90)" text-anchor="middle" class="yl">Normalized Intensity [a.u.]</text>
<text x="164.0" y="260" class="xq">q</text>
<text x="181.2" y="260.3" class="xu ser">[1/&#197;]</text>
<text transform="translate(362.09999999999997,117) rotate(-90)" text-anchor="middle" class="yl">Normalized Intensity [a.u.]</text>
<text x="516.79874" y="260" class="xq">q</text>
<text x="533.99874" y="260.3" class="xu ser">[1/&#197;]</text>
<text x="134.8" y="31.2" class="an" text-anchor="start" >fcc 111</text>
<text x="134.8" y="42.4" class="an" text-anchor="start" >hcp 002</text>
<text x="61.5" y="161.7" class="an" text-anchor="start" >hcp 100</text>
<text x="194.6" y="170.5" class="an" text-anchor="start" >hcp 101</text>
<text x="252.2" y="98.8" class="an" text-anchor="start" >fcc 200</text>
<text x="484.1" y="32.9" class="an" text-anchor="start" >fcc 111</text>
<text x="484.1" y="44.4" class="an" text-anchor="start" >hcp 002</text>
<text x="422.5" y="86.7" class="an" text-anchor="start" >hcp 100</text>
<text x="561.5" y="68" class="an" text-anchor="start" >hcp 101</text>
<text x="603" y="106.6" class="an" text-anchor="start" >fcc 200</text>
<text x="397.6" y="19" class="an al">&#945;</text>
<text x="402.5" y="21.1" class="sb">12</text>
<text x="409.6" y="19" class="an">=</text>
<text x="417.6" y="19" class="an">0.05</text>
<rect x="268.5" y="9.5" width="59.5" height="57.2" fill="#fff" stroke="#555" stroke-width="1.2"/>
<line x1="271.3" y1="18" x2="284.6" y2="18" stroke="#000" stroke-width="1.3"/>
<text x="286.5" y="20.9" class="lg">fcc</text>
<text x="300.3" y="20.9" class="lg">(</text>
<text x="303.5" y="20.9" class="lg al">&#945;</text>
<text x="309.1" y="20.9" class="lg">=0)</text>
<line x1="271.3" y1="31.5" x2="284.6" y2="31.5" stroke="#ff0000" stroke-width="1.3"/>
<text x="286.5" y="34.7" class="lg al">&#945;</text>
<text x="291.4" y="36.8" class="sb">12</text>
<text x="298.5" y="34.7" class="lg">=</text>
<text x="306.5" y="34.7" class="lg">0.10</text>
<line x1="271.3" y1="45" x2="284.6" y2="45" stroke="#0000ff" stroke-width="1.3"/>
<text x="286.5" y="48.2" class="lg al">&#945;</text>
<text x="291.4" y="50.3" class="sb">13</text>
<text x="298.5" y="48.2" class="lg">=</text>
<text x="306.5" y="48.2" class="lg">0.10</text>
<line x1="271.3" y1="58.3" x2="284.6" y2="58.3" stroke="#cc00ff" stroke-width="1.3" stroke-dasharray="3.3,2"/>
<text x="286.5" y="61.5" class="lg al">&#945;</text>
<text x="291.4" y="63.6" class="sb">14</text>
<text x="298.5" y="61.5" class="lg">=</text>
<text x="306.5" y="61.5" class="lg">0.05</text>
<rect x="621.8" y="10.5" width="58.700000000000045" height="65.7" fill="#fff" stroke="#555" stroke-width="1.2"/>
<line x1="625" y1="17.5" x2="637.9" y2="17.5" stroke="#0000ff" stroke-width="1.3"/>
<text x="640.5" y="20.7" class="lg al">&#945;</text>
<text x="645.4" y="22.8" class="sb">22</text>
<text x="652.5" y="20.7" class="lg">=</text>
<text x="660.5" y="20.7" class="lg">0.90</text>
<line x1="625" y1="30.9" x2="637.9" y2="30.9" stroke="#000" stroke-width="1.3"/>
<text x="640.5" y="34.1" class="lg al">&#945;</text>
<text x="645.4" y="36.2" class="sb">22</text>
<text x="652.5" y="34.1" class="lg">=</text>
<text x="660.5" y="34.1" class="lg">0.66</text>
<line x1="625" y1="44.4" x2="637.9" y2="44.4" stroke="#ff0000" stroke-width="1.3"/>
<text x="640.5" y="47.6" class="lg al">&#945;</text>
<text x="645.4" y="49.7" class="sb">22</text>
<text x="652.5" y="47.6" class="lg">=</text>
<text x="660.5" y="47.6" class="lg">0.33</text>
<line x1="625" y1="56.5" x2="637.9" y2="56.5" stroke="#00c000" stroke-width="1.3"/>
<text x="640.5" y="59.7" class="lg al">&#945;</text>
<text x="645.4" y="61.8" class="sb">22</text>
<text x="652.5" y="59.7" class="lg">=</text>
<text x="660.5" y="59.7" class="lg">0.10</text>
<line x1="625" y1="68.6" x2="637.9" y2="68.6" stroke="#cc00ff" stroke-width="1.3" stroke-dasharray="3.3,2"/>
<text x="640.5" y="71.8" class="lg al">&#945;</text>
<text x="645.4" y="73.9" class="sb">22</text>
<text x="652.5" y="71.8" class="lg">=</text>
<text x="660.5" y="71.8" class="lg">0.00</text>
</svg>
</body></html>
